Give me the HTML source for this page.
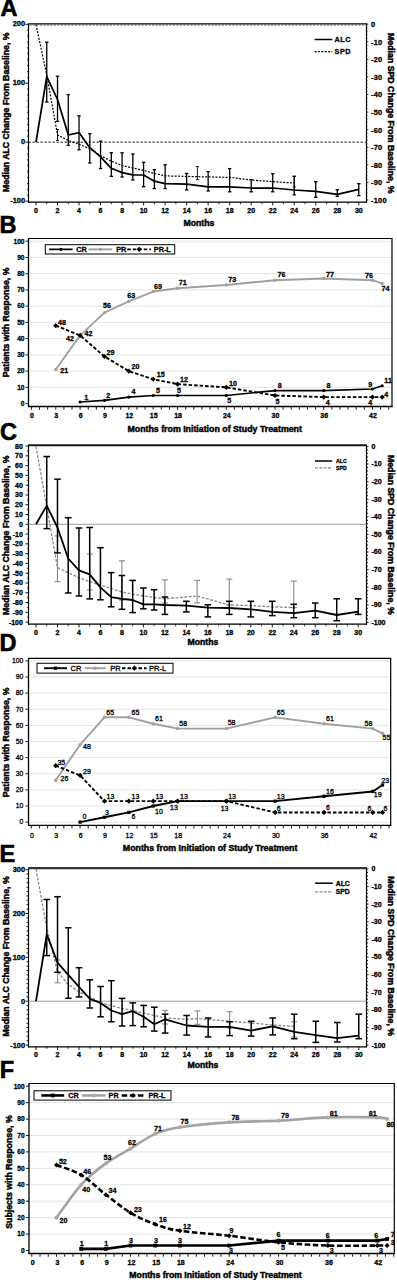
<!DOCTYPE html>
<html><head><meta charset="utf-8"><title>Figure</title>
<style>
html,body{margin:0;padding:0;background:#fff;overflow:hidden;width:397px;height:1280px;}
svg{display:block;}
text{font-family:"Liberation Sans",sans-serif;stroke:#000;stroke-width:0.3px;}
</style></head>
<body>
<svg width="397" height="1280" viewBox="0 0 397 1280">
<rect x="0" y="0" width="397" height="1280" fill="#fff"/>
<text x="0.4" y="15.9" font-size="23.5" text-anchor="start" fill="#000" font-weight="bold" style="stroke-width:0.6px">A</text>
<line x1="25.5" y1="24.3" x2="28.5" y2="24.3" stroke="#000" stroke-width="0.9" />
<text x="25" y="26.4" font-size="7.4" text-anchor="end" fill="#000" font-weight="bold" >200</text>
<line x1="25.5" y1="83.25" x2="28.5" y2="83.25" stroke="#000" stroke-width="0.9" />
<text x="25" y="85.35" font-size="7.4" text-anchor="end" fill="#000" font-weight="bold" >100</text>
<line x1="25.5" y1="142.2" x2="28.5" y2="142.2" stroke="#000" stroke-width="0.9" />
<text x="25" y="144.3" font-size="7.4" text-anchor="end" fill="#000" font-weight="bold" >0</text>
<line x1="25.5" y1="201.15" x2="28.5" y2="201.15" stroke="#000" stroke-width="0.9" />
<text x="25" y="203.25" font-size="7.4" text-anchor="end" fill="#000" font-weight="bold" >-100</text>
<line x1="26.9" y1="195.25" x2="28.5" y2="195.25" stroke="#000" stroke-width="0.7" />
<line x1="26.9" y1="189.36" x2="28.5" y2="189.36" stroke="#000" stroke-width="0.7" />
<line x1="26.9" y1="183.46" x2="28.5" y2="183.46" stroke="#000" stroke-width="0.7" />
<line x1="26.9" y1="177.57" x2="28.5" y2="177.57" stroke="#000" stroke-width="0.7" />
<line x1="26.9" y1="171.67" x2="28.5" y2="171.67" stroke="#000" stroke-width="0.7" />
<line x1="26.9" y1="165.78" x2="28.5" y2="165.78" stroke="#000" stroke-width="0.7" />
<line x1="26.9" y1="159.88" x2="28.5" y2="159.88" stroke="#000" stroke-width="0.7" />
<line x1="26.9" y1="153.99" x2="28.5" y2="153.99" stroke="#000" stroke-width="0.7" />
<line x1="26.9" y1="148.09" x2="28.5" y2="148.09" stroke="#000" stroke-width="0.7" />
<line x1="26.9" y1="136.3" x2="28.5" y2="136.3" stroke="#000" stroke-width="0.7" />
<line x1="26.9" y1="130.41" x2="28.5" y2="130.41" stroke="#000" stroke-width="0.7" />
<line x1="26.9" y1="124.51" x2="28.5" y2="124.51" stroke="#000" stroke-width="0.7" />
<line x1="26.9" y1="118.62" x2="28.5" y2="118.62" stroke="#000" stroke-width="0.7" />
<line x1="26.9" y1="112.72" x2="28.5" y2="112.72" stroke="#000" stroke-width="0.7" />
<line x1="26.9" y1="106.83" x2="28.5" y2="106.83" stroke="#000" stroke-width="0.7" />
<line x1="26.9" y1="100.93" x2="28.5" y2="100.93" stroke="#000" stroke-width="0.7" />
<line x1="26.9" y1="95.04" x2="28.5" y2="95.04" stroke="#000" stroke-width="0.7" />
<line x1="26.9" y1="89.14" x2="28.5" y2="89.14" stroke="#000" stroke-width="0.7" />
<line x1="26.9" y1="77.35" x2="28.5" y2="77.35" stroke="#000" stroke-width="0.7" />
<line x1="26.9" y1="71.46" x2="28.5" y2="71.46" stroke="#000" stroke-width="0.7" />
<line x1="26.9" y1="65.56" x2="28.5" y2="65.56" stroke="#000" stroke-width="0.7" />
<line x1="26.9" y1="59.67" x2="28.5" y2="59.67" stroke="#000" stroke-width="0.7" />
<line x1="26.9" y1="53.77" x2="28.5" y2="53.77" stroke="#000" stroke-width="0.7" />
<line x1="26.9" y1="47.88" x2="28.5" y2="47.88" stroke="#000" stroke-width="0.7" />
<line x1="26.9" y1="41.98" x2="28.5" y2="41.98" stroke="#000" stroke-width="0.7" />
<line x1="26.9" y1="36.09" x2="28.5" y2="36.09" stroke="#000" stroke-width="0.7" />
<line x1="26.9" y1="30.19" x2="28.5" y2="30.19" stroke="#000" stroke-width="0.7" />
<line x1="366.5" y1="24.2" x2="368.3" y2="24.2" stroke="#000" stroke-width="0.9" />
<text x="371" y="27.1" font-size="7.4" text-anchor="start" fill="#000" font-weight="bold" letter-spacing="0.25">0</text>
<line x1="366.5" y1="41.78" x2="368.3" y2="41.78" stroke="#000" stroke-width="0.9" />
<text x="371" y="44.68" font-size="7.4" text-anchor="start" fill="#000" font-weight="bold" letter-spacing="0.25">-10</text>
<line x1="366.5" y1="59.36" x2="368.3" y2="59.36" stroke="#000" stroke-width="0.9" />
<text x="371" y="62.26" font-size="7.4" text-anchor="start" fill="#000" font-weight="bold" letter-spacing="0.25">-20</text>
<line x1="366.5" y1="76.94" x2="368.3" y2="76.94" stroke="#000" stroke-width="0.9" />
<text x="371" y="79.84" font-size="7.4" text-anchor="start" fill="#000" font-weight="bold" letter-spacing="0.25">-30</text>
<line x1="366.5" y1="94.52" x2="368.3" y2="94.52" stroke="#000" stroke-width="0.9" />
<text x="371" y="97.42" font-size="7.4" text-anchor="start" fill="#000" font-weight="bold" letter-spacing="0.25">-40</text>
<line x1="366.5" y1="112.1" x2="368.3" y2="112.1" stroke="#000" stroke-width="0.9" />
<text x="371" y="115" font-size="7.4" text-anchor="start" fill="#000" font-weight="bold" letter-spacing="0.25">-50</text>
<line x1="366.5" y1="129.68" x2="368.3" y2="129.68" stroke="#000" stroke-width="0.9" />
<text x="371" y="132.58" font-size="7.4" text-anchor="start" fill="#000" font-weight="bold" letter-spacing="0.25">-60</text>
<line x1="366.5" y1="147.26" x2="368.3" y2="147.26" stroke="#000" stroke-width="0.9" />
<text x="371" y="150.16" font-size="7.4" text-anchor="start" fill="#000" font-weight="bold" letter-spacing="0.25">-70</text>
<line x1="366.5" y1="164.84" x2="368.3" y2="164.84" stroke="#000" stroke-width="0.9" />
<text x="371" y="167.74" font-size="7.4" text-anchor="start" fill="#000" font-weight="bold" letter-spacing="0.25">-80</text>
<line x1="366.5" y1="182.42" x2="368.3" y2="182.42" stroke="#000" stroke-width="0.9" />
<text x="371" y="185.32" font-size="7.4" text-anchor="start" fill="#000" font-weight="bold" letter-spacing="0.25">-90</text>
<line x1="366.5" y1="200" x2="368.3" y2="200" stroke="#000" stroke-width="0.9" />
<text x="371" y="202.9" font-size="7.4" text-anchor="start" fill="#000" font-weight="bold" letter-spacing="0.25">-100</text>
<line x1="366.5" y1="27.72" x2="367.4" y2="27.72" stroke="#000" stroke-width="0.8" />
<line x1="366.5" y1="31.23" x2="367.4" y2="31.23" stroke="#000" stroke-width="0.8" />
<line x1="366.5" y1="34.75" x2="367.4" y2="34.75" stroke="#000" stroke-width="0.8" />
<line x1="366.5" y1="38.26" x2="367.4" y2="38.26" stroke="#000" stroke-width="0.8" />
<line x1="366.5" y1="45.3" x2="367.4" y2="45.3" stroke="#000" stroke-width="0.8" />
<line x1="366.5" y1="48.81" x2="367.4" y2="48.81" stroke="#000" stroke-width="0.8" />
<line x1="366.5" y1="52.33" x2="367.4" y2="52.33" stroke="#000" stroke-width="0.8" />
<line x1="366.5" y1="55.84" x2="367.4" y2="55.84" stroke="#000" stroke-width="0.8" />
<line x1="366.5" y1="62.88" x2="367.4" y2="62.88" stroke="#000" stroke-width="0.8" />
<line x1="366.5" y1="66.39" x2="367.4" y2="66.39" stroke="#000" stroke-width="0.8" />
<line x1="366.5" y1="69.91" x2="367.4" y2="69.91" stroke="#000" stroke-width="0.8" />
<line x1="366.5" y1="73.42" x2="367.4" y2="73.42" stroke="#000" stroke-width="0.8" />
<line x1="366.5" y1="80.46" x2="367.4" y2="80.46" stroke="#000" stroke-width="0.8" />
<line x1="366.5" y1="83.97" x2="367.4" y2="83.97" stroke="#000" stroke-width="0.8" />
<line x1="366.5" y1="87.49" x2="367.4" y2="87.49" stroke="#000" stroke-width="0.8" />
<line x1="366.5" y1="91" x2="367.4" y2="91" stroke="#000" stroke-width="0.8" />
<line x1="366.5" y1="98.04" x2="367.4" y2="98.04" stroke="#000" stroke-width="0.8" />
<line x1="366.5" y1="101.55" x2="367.4" y2="101.55" stroke="#000" stroke-width="0.8" />
<line x1="366.5" y1="105.07" x2="367.4" y2="105.07" stroke="#000" stroke-width="0.8" />
<line x1="366.5" y1="108.58" x2="367.4" y2="108.58" stroke="#000" stroke-width="0.8" />
<line x1="366.5" y1="115.62" x2="367.4" y2="115.62" stroke="#000" stroke-width="0.8" />
<line x1="366.5" y1="119.13" x2="367.4" y2="119.13" stroke="#000" stroke-width="0.8" />
<line x1="366.5" y1="122.65" x2="367.4" y2="122.65" stroke="#000" stroke-width="0.8" />
<line x1="366.5" y1="126.16" x2="367.4" y2="126.16" stroke="#000" stroke-width="0.8" />
<line x1="366.5" y1="133.2" x2="367.4" y2="133.2" stroke="#000" stroke-width="0.8" />
<line x1="366.5" y1="136.71" x2="367.4" y2="136.71" stroke="#000" stroke-width="0.8" />
<line x1="366.5" y1="140.23" x2="367.4" y2="140.23" stroke="#000" stroke-width="0.8" />
<line x1="366.5" y1="143.74" x2="367.4" y2="143.74" stroke="#000" stroke-width="0.8" />
<line x1="366.5" y1="150.78" x2="367.4" y2="150.78" stroke="#000" stroke-width="0.8" />
<line x1="366.5" y1="154.29" x2="367.4" y2="154.29" stroke="#000" stroke-width="0.8" />
<line x1="366.5" y1="157.81" x2="367.4" y2="157.81" stroke="#000" stroke-width="0.8" />
<line x1="366.5" y1="161.32" x2="367.4" y2="161.32" stroke="#000" stroke-width="0.8" />
<line x1="366.5" y1="168.36" x2="367.4" y2="168.36" stroke="#000" stroke-width="0.8" />
<line x1="366.5" y1="171.87" x2="367.4" y2="171.87" stroke="#000" stroke-width="0.8" />
<line x1="366.5" y1="175.39" x2="367.4" y2="175.39" stroke="#000" stroke-width="0.8" />
<line x1="366.5" y1="178.9" x2="367.4" y2="178.9" stroke="#000" stroke-width="0.8" />
<line x1="366.5" y1="185.94" x2="367.4" y2="185.94" stroke="#000" stroke-width="0.8" />
<line x1="366.5" y1="189.45" x2="367.4" y2="189.45" stroke="#000" stroke-width="0.8" />
<line x1="366.5" y1="192.97" x2="367.4" y2="192.97" stroke="#000" stroke-width="0.8" />
<line x1="366.5" y1="196.48" x2="367.4" y2="196.48" stroke="#000" stroke-width="0.8" />
<line x1="36" y1="202.2" x2="36" y2="205.4" stroke="#000" stroke-width="0.9" />
<text x="36" y="213" font-size="7" text-anchor="middle" fill="#000" font-weight="bold" >0</text>
<line x1="46.76" y1="202.2" x2="46.76" y2="204.2" stroke="#000" stroke-width="0.8" />
<line x1="57.52" y1="202.2" x2="57.52" y2="205.4" stroke="#000" stroke-width="0.9" />
<text x="57.52" y="213" font-size="7" text-anchor="middle" fill="#000" font-weight="bold" >2</text>
<line x1="68.28" y1="202.2" x2="68.28" y2="204.2" stroke="#000" stroke-width="0.8" />
<line x1="79.04" y1="202.2" x2="79.04" y2="205.4" stroke="#000" stroke-width="0.9" />
<text x="79.04" y="213" font-size="7" text-anchor="middle" fill="#000" font-weight="bold" >4</text>
<line x1="89.8" y1="202.2" x2="89.8" y2="204.2" stroke="#000" stroke-width="0.8" />
<line x1="100.56" y1="202.2" x2="100.56" y2="205.4" stroke="#000" stroke-width="0.9" />
<text x="100.56" y="213" font-size="7" text-anchor="middle" fill="#000" font-weight="bold" >6</text>
<line x1="111.32" y1="202.2" x2="111.32" y2="204.2" stroke="#000" stroke-width="0.8" />
<line x1="122.08" y1="202.2" x2="122.08" y2="205.4" stroke="#000" stroke-width="0.9" />
<text x="122.08" y="213" font-size="7" text-anchor="middle" fill="#000" font-weight="bold" >8</text>
<line x1="132.84" y1="202.2" x2="132.84" y2="204.2" stroke="#000" stroke-width="0.8" />
<line x1="143.6" y1="202.2" x2="143.6" y2="205.4" stroke="#000" stroke-width="0.9" />
<text x="143.6" y="213" font-size="7" text-anchor="middle" fill="#000" font-weight="bold" >10</text>
<line x1="154.36" y1="202.2" x2="154.36" y2="204.2" stroke="#000" stroke-width="0.8" />
<line x1="165.12" y1="202.2" x2="165.12" y2="205.4" stroke="#000" stroke-width="0.9" />
<text x="165.12" y="213" font-size="7" text-anchor="middle" fill="#000" font-weight="bold" >12</text>
<line x1="175.88" y1="202.2" x2="175.88" y2="204.2" stroke="#000" stroke-width="0.8" />
<line x1="186.64" y1="202.2" x2="186.64" y2="205.4" stroke="#000" stroke-width="0.9" />
<text x="186.64" y="213" font-size="7" text-anchor="middle" fill="#000" font-weight="bold" >14</text>
<line x1="197.4" y1="202.2" x2="197.4" y2="204.2" stroke="#000" stroke-width="0.8" />
<line x1="208.16" y1="202.2" x2="208.16" y2="205.4" stroke="#000" stroke-width="0.9" />
<text x="208.16" y="213" font-size="7" text-anchor="middle" fill="#000" font-weight="bold" >16</text>
<line x1="218.92" y1="202.2" x2="218.92" y2="204.2" stroke="#000" stroke-width="0.8" />
<line x1="229.68" y1="202.2" x2="229.68" y2="205.4" stroke="#000" stroke-width="0.9" />
<text x="229.68" y="213" font-size="7" text-anchor="middle" fill="#000" font-weight="bold" >18</text>
<line x1="240.44" y1="202.2" x2="240.44" y2="204.2" stroke="#000" stroke-width="0.8" />
<line x1="251.2" y1="202.2" x2="251.2" y2="205.4" stroke="#000" stroke-width="0.9" />
<text x="251.2" y="213" font-size="7" text-anchor="middle" fill="#000" font-weight="bold" >20</text>
<line x1="261.96" y1="202.2" x2="261.96" y2="204.2" stroke="#000" stroke-width="0.8" />
<line x1="272.72" y1="202.2" x2="272.72" y2="205.4" stroke="#000" stroke-width="0.9" />
<text x="272.72" y="213" font-size="7" text-anchor="middle" fill="#000" font-weight="bold" >22</text>
<line x1="283.48" y1="202.2" x2="283.48" y2="204.2" stroke="#000" stroke-width="0.8" />
<line x1="294.24" y1="202.2" x2="294.24" y2="205.4" stroke="#000" stroke-width="0.9" />
<text x="294.24" y="213" font-size="7" text-anchor="middle" fill="#000" font-weight="bold" >24</text>
<line x1="305" y1="202.2" x2="305" y2="204.2" stroke="#000" stroke-width="0.8" />
<line x1="315.76" y1="202.2" x2="315.76" y2="205.4" stroke="#000" stroke-width="0.9" />
<text x="315.76" y="213" font-size="7" text-anchor="middle" fill="#000" font-weight="bold" >26</text>
<line x1="326.52" y1="202.2" x2="326.52" y2="204.2" stroke="#000" stroke-width="0.8" />
<line x1="337.28" y1="202.2" x2="337.28" y2="205.4" stroke="#000" stroke-width="0.9" />
<text x="337.28" y="213" font-size="7" text-anchor="middle" fill="#000" font-weight="bold" >28</text>
<line x1="348.04" y1="202.2" x2="348.04" y2="204.2" stroke="#000" stroke-width="0.8" />
<line x1="358.8" y1="202.2" x2="358.8" y2="205.4" stroke="#000" stroke-width="0.9" />
<text x="358.8" y="213" font-size="7" text-anchor="middle" fill="#000" font-weight="bold" >30</text>
<line x1="28.5" y1="23.8" x2="28.5" y2="202.7" stroke="#000" stroke-width="1.2" />
<line x1="28" y1="202.2" x2="367" y2="202.2" stroke="#000" stroke-width="1.2" />
<line x1="366.5" y1="23.8" x2="366.5" y2="202.7" stroke="#000" stroke-width="1.2" />
<line x1="28" y1="23.8" x2="367" y2="23.8" stroke="#000" stroke-width="1.2" />
<line x1="28.5" y1="142.2" x2="366.5" y2="142.2" stroke="#000" stroke-width="0.9" stroke-dasharray="2.4,1.6"/>
<line x1="29.5" y1="25.1" x2="365.5" y2="25.1" stroke="#555" stroke-width="0.9" stroke-dasharray="2,1.5"/>
<line x1="57.52" y1="129.5" x2="57.52" y2="140.4" stroke="#000" stroke-width="0.9" />
<line x1="56.02" y1="129.5" x2="59.02" y2="129.5" stroke="#000" stroke-width="0.9" />
<line x1="56.02" y1="140.4" x2="59.02" y2="140.4" stroke="#000" stroke-width="0.9" />
<line x1="197.4" y1="166.6" x2="197.4" y2="179.7" stroke="#000" stroke-width="0.9" />
<line x1="195.9" y1="166.6" x2="198.9" y2="166.6" stroke="#000" stroke-width="0.9" />
<line x1="195.9" y1="179.7" x2="198.9" y2="179.7" stroke="#000" stroke-width="0.9" />
<line x1="294.24" y1="176.5" x2="294.24" y2="187" stroke="#000" stroke-width="0.9" />
<line x1="292.74" y1="176.5" x2="295.74" y2="176.5" stroke="#000" stroke-width="0.9" />
<line x1="292.74" y1="187" x2="295.74" y2="187" stroke="#000" stroke-width="0.9" />
<polyline points="36,24.5 46.76,75 57.52,135 68.28,140.4 79.04,144.2 89.8,148.8 100.56,155.6 111.32,161.2 122.08,165.5 132.84,168 143.6,170.4 154.36,173.5 165.12,175.9 197.4,176.7 229.68,177.4 251.2,180 272.72,181.7 294.24,183" fill="none" stroke="#000" stroke-width="1.2" stroke-linejoin="round" stroke-dasharray="2,1.4"/>
<line x1="46.76" y1="42.2" x2="46.76" y2="102" stroke="#000" stroke-width="1.3" />
<line x1="45.06" y1="42.2" x2="48.46" y2="42.2" stroke="#000" stroke-width="1.3" />
<line x1="45.06" y1="102" x2="48.46" y2="102" stroke="#000" stroke-width="1.3" />
<line x1="57.52" y1="76.2" x2="57.52" y2="121.4" stroke="#000" stroke-width="1.3" />
<line x1="55.82" y1="76.2" x2="59.22" y2="76.2" stroke="#000" stroke-width="1.3" />
<line x1="55.82" y1="121.4" x2="59.22" y2="121.4" stroke="#000" stroke-width="1.3" />
<line x1="68.28" y1="94.6" x2="68.28" y2="145.4" stroke="#000" stroke-width="1.3" />
<line x1="66.58" y1="94.6" x2="69.98" y2="94.6" stroke="#000" stroke-width="1.3" />
<line x1="66.58" y1="145.4" x2="69.98" y2="145.4" stroke="#000" stroke-width="1.3" />
<line x1="79.04" y1="115.8" x2="79.04" y2="149.8" stroke="#000" stroke-width="1.3" />
<line x1="77.34" y1="115.8" x2="80.74" y2="115.8" stroke="#000" stroke-width="1.3" />
<line x1="77.34" y1="149.8" x2="80.74" y2="149.8" stroke="#000" stroke-width="1.3" />
<line x1="89.8" y1="133.6" x2="89.8" y2="163" stroke="#000" stroke-width="1.3" />
<line x1="88.1" y1="133.6" x2="91.5" y2="133.6" stroke="#000" stroke-width="1.3" />
<line x1="88.1" y1="163" x2="91.5" y2="163" stroke="#000" stroke-width="1.3" />
<line x1="100.56" y1="141.1" x2="100.56" y2="168.5" stroke="#000" stroke-width="1.3" />
<line x1="98.86" y1="141.1" x2="102.26" y2="141.1" stroke="#000" stroke-width="1.3" />
<line x1="98.86" y1="168.5" x2="102.26" y2="168.5" stroke="#000" stroke-width="1.3" />
<line x1="111.32" y1="152.7" x2="111.32" y2="176.4" stroke="#000" stroke-width="1.3" />
<line x1="109.62" y1="152.7" x2="113.02" y2="152.7" stroke="#000" stroke-width="1.3" />
<line x1="109.62" y1="176.4" x2="113.02" y2="176.4" stroke="#000" stroke-width="1.3" />
<line x1="122.08" y1="152.8" x2="122.08" y2="177" stroke="#000" stroke-width="1.3" />
<line x1="120.38" y1="152.8" x2="123.78" y2="152.8" stroke="#000" stroke-width="1.3" />
<line x1="120.38" y1="177" x2="123.78" y2="177" stroke="#000" stroke-width="1.3" />
<line x1="132.84" y1="154" x2="132.84" y2="180" stroke="#000" stroke-width="1.3" />
<line x1="131.14" y1="154" x2="134.54" y2="154" stroke="#000" stroke-width="1.3" />
<line x1="131.14" y1="180" x2="134.54" y2="180" stroke="#000" stroke-width="1.3" />
<line x1="143.6" y1="162.3" x2="143.6" y2="186.7" stroke="#000" stroke-width="1.3" />
<line x1="141.9" y1="162.3" x2="145.3" y2="162.3" stroke="#000" stroke-width="1.3" />
<line x1="141.9" y1="186.7" x2="145.3" y2="186.7" stroke="#000" stroke-width="1.3" />
<line x1="154.36" y1="169.6" x2="154.36" y2="188.5" stroke="#000" stroke-width="1.3" />
<line x1="152.66" y1="169.6" x2="156.06" y2="169.6" stroke="#000" stroke-width="1.3" />
<line x1="152.66" y1="188.5" x2="156.06" y2="188.5" stroke="#000" stroke-width="1.3" />
<line x1="165.12" y1="164.8" x2="165.12" y2="188.5" stroke="#000" stroke-width="1.3" />
<line x1="163.42" y1="164.8" x2="166.82" y2="164.8" stroke="#000" stroke-width="1.3" />
<line x1="163.42" y1="188.5" x2="166.82" y2="188.5" stroke="#000" stroke-width="1.3" />
<line x1="186.64" y1="173.4" x2="186.64" y2="190" stroke="#000" stroke-width="1.3" />
<line x1="184.94" y1="173.4" x2="188.34" y2="173.4" stroke="#000" stroke-width="1.3" />
<line x1="184.94" y1="190" x2="188.34" y2="190" stroke="#000" stroke-width="1.3" />
<line x1="208.16" y1="171.6" x2="208.16" y2="191" stroke="#000" stroke-width="1.3" />
<line x1="206.46" y1="171.6" x2="209.86" y2="171.6" stroke="#000" stroke-width="1.3" />
<line x1="206.46" y1="191" x2="209.86" y2="191" stroke="#000" stroke-width="1.3" />
<line x1="229.68" y1="168.6" x2="229.68" y2="191.8" stroke="#000" stroke-width="1.3" />
<line x1="227.98" y1="168.6" x2="231.38" y2="168.6" stroke="#000" stroke-width="1.3" />
<line x1="227.98" y1="191.8" x2="231.38" y2="191.8" stroke="#000" stroke-width="1.3" />
<line x1="251.2" y1="179.7" x2="251.2" y2="191.8" stroke="#000" stroke-width="1.3" />
<line x1="249.5" y1="179.7" x2="252.9" y2="179.7" stroke="#000" stroke-width="1.3" />
<line x1="249.5" y1="191.8" x2="252.9" y2="191.8" stroke="#000" stroke-width="1.3" />
<line x1="272.72" y1="173.7" x2="272.72" y2="191.8" stroke="#000" stroke-width="1.3" />
<line x1="271.02" y1="173.7" x2="274.42" y2="173.7" stroke="#000" stroke-width="1.3" />
<line x1="271.02" y1="191.8" x2="274.42" y2="191.8" stroke="#000" stroke-width="1.3" />
<line x1="294.24" y1="176.2" x2="294.24" y2="194.8" stroke="#000" stroke-width="1.3" />
<line x1="292.54" y1="176.2" x2="295.94" y2="176.2" stroke="#000" stroke-width="1.3" />
<line x1="292.54" y1="194.8" x2="295.94" y2="194.8" stroke="#000" stroke-width="1.3" />
<line x1="315.76" y1="181.7" x2="315.76" y2="197.3" stroke="#000" stroke-width="1.3" />
<line x1="314.06" y1="181.7" x2="317.46" y2="181.7" stroke="#000" stroke-width="1.3" />
<line x1="314.06" y1="197.3" x2="317.46" y2="197.3" stroke="#000" stroke-width="1.3" />
<line x1="337.28" y1="189.8" x2="337.28" y2="196.3" stroke="#000" stroke-width="1.3" />
<line x1="335.58" y1="189.8" x2="338.98" y2="189.8" stroke="#000" stroke-width="1.3" />
<line x1="335.58" y1="196.3" x2="338.98" y2="196.3" stroke="#000" stroke-width="1.3" />
<line x1="358.8" y1="183.7" x2="358.8" y2="195.6" stroke="#000" stroke-width="1.3" />
<line x1="357.1" y1="183.7" x2="360.5" y2="183.7" stroke="#000" stroke-width="1.3" />
<line x1="357.1" y1="195.6" x2="360.5" y2="195.6" stroke="#000" stroke-width="1.3" />
<polyline points="36,142.2 46.76,76.7 57.52,99.5 68.28,135 79.04,132.6 89.8,147.7 100.56,156.8 111.32,168.3 122.08,172.6 132.84,174.9 143.6,175 154.36,181.2 165.12,183.7 186.64,184.2 208.16,186.8 229.68,186.8 251.2,188 272.72,188 294.24,190 315.76,191.3 337.28,194.3 358.8,189.3" fill="none" stroke="#000" stroke-width="1.75" stroke-linejoin="round" />
<line x1="314.6" y1="39.5" x2="332.3" y2="39.5" stroke="#000" stroke-width="1.5" />
<line x1="314.6" y1="51.6" x2="332.3" y2="51.6" stroke="#000" stroke-width="1.2" stroke-dasharray="2,1.4"/>
<text x="334.6" y="42.13" font-size="7.3" text-anchor="start" fill="#000" font-weight="bold" letter-spacing="0.45">ALC</text>
<text x="334.6" y="54.23" font-size="7.3" text-anchor="start" fill="#000" font-weight="bold" letter-spacing="0.45">SPD</text>
<text x="198.9" y="225.8" font-size="8.7" text-anchor="middle" fill="#000" font-weight="bold" style="stroke-width:0.45px">Months</text>
<text transform="translate(9,112.2) rotate(-90)" x="0" y="0" font-size="8.72" text-anchor="middle" font-weight="bold" style="stroke-width:0.45px" >Median ALC Change From Baseline, %</text>
<text transform="translate(388.3,113.3) rotate(90)" x="0" y="0" font-size="8.75" text-anchor="middle" font-weight="bold" style="stroke-width:0.45px" >Median SPD Change From Baseline, %</text>
<text x="-0.4" y="233.2" font-size="23.5" text-anchor="start" fill="#000" font-weight="bold" style="stroke-width:0.6px">B</text>
<line x1="28.5" y1="387.36" x2="392" y2="387.36" stroke="#dedede" stroke-width="0.8" />
<line x1="28.5" y1="371.12" x2="392" y2="371.12" stroke="#dedede" stroke-width="0.8" />
<line x1="28.5" y1="354.88" x2="392" y2="354.88" stroke="#dedede" stroke-width="0.8" />
<line x1="28.5" y1="338.64" x2="392" y2="338.64" stroke="#dedede" stroke-width="0.8" />
<line x1="28.5" y1="322.4" x2="392" y2="322.4" stroke="#dedede" stroke-width="0.8" />
<line x1="28.5" y1="306.16" x2="392" y2="306.16" stroke="#dedede" stroke-width="0.8" />
<line x1="28.5" y1="289.92" x2="392" y2="289.92" stroke="#dedede" stroke-width="0.8" />
<line x1="28.5" y1="273.68" x2="392" y2="273.68" stroke="#dedede" stroke-width="0.8" />
<line x1="28.5" y1="257.44" x2="392" y2="257.44" stroke="#dedede" stroke-width="0.8" />
<line x1="28.5" y1="241.2" x2="392" y2="241.2" stroke="#dedede" stroke-width="0.8" />
<line x1="28.5" y1="403.9" x2="392" y2="403.9" stroke="#e6e6e6" stroke-width="0.8" />
<line x1="25.5" y1="403.6" x2="28.5" y2="403.6" stroke="#000" stroke-width="0.9" />
<text transform="translate(24.5,405.9) scale(0.87,1)" font-size="7.6" text-anchor="end" fill="#000" font-weight="bold" >0</text>
<line x1="25.5" y1="387.36" x2="28.5" y2="387.36" stroke="#000" stroke-width="0.9" />
<text transform="translate(24.5,389.66) scale(0.87,1)" font-size="7.6" text-anchor="end" fill="#000" font-weight="bold" >10</text>
<line x1="25.5" y1="371.12" x2="28.5" y2="371.12" stroke="#000" stroke-width="0.9" />
<text transform="translate(24.5,373.42) scale(0.87,1)" font-size="7.6" text-anchor="end" fill="#000" font-weight="bold" >20</text>
<line x1="25.5" y1="354.88" x2="28.5" y2="354.88" stroke="#000" stroke-width="0.9" />
<text transform="translate(24.5,357.18) scale(0.87,1)" font-size="7.6" text-anchor="end" fill="#000" font-weight="bold" >30</text>
<line x1="25.5" y1="338.64" x2="28.5" y2="338.64" stroke="#000" stroke-width="0.9" />
<text transform="translate(24.5,340.94) scale(0.87,1)" font-size="7.6" text-anchor="end" fill="#000" font-weight="bold" >40</text>
<line x1="25.5" y1="322.4" x2="28.5" y2="322.4" stroke="#000" stroke-width="0.9" />
<text transform="translate(24.5,324.7) scale(0.87,1)" font-size="7.6" text-anchor="end" fill="#000" font-weight="bold" >50</text>
<line x1="25.5" y1="306.16" x2="28.5" y2="306.16" stroke="#000" stroke-width="0.9" />
<text transform="translate(24.5,308.46) scale(0.87,1)" font-size="7.6" text-anchor="end" fill="#000" font-weight="bold" >60</text>
<line x1="25.5" y1="289.92" x2="28.5" y2="289.92" stroke="#000" stroke-width="0.9" />
<text transform="translate(24.5,292.22) scale(0.87,1)" font-size="7.6" text-anchor="end" fill="#000" font-weight="bold" >70</text>
<line x1="25.5" y1="273.68" x2="28.5" y2="273.68" stroke="#000" stroke-width="0.9" />
<text transform="translate(24.5,275.98) scale(0.87,1)" font-size="7.6" text-anchor="end" fill="#000" font-weight="bold" >80</text>
<line x1="25.5" y1="257.44" x2="28.5" y2="257.44" stroke="#000" stroke-width="0.9" />
<text transform="translate(24.5,259.74) scale(0.87,1)" font-size="7.6" text-anchor="end" fill="#000" font-weight="bold" >90</text>
<line x1="25.5" y1="241.2" x2="28.5" y2="241.2" stroke="#000" stroke-width="0.9" />
<text transform="translate(24.5,243.5) scale(0.87,1)" font-size="7.6" text-anchor="end" fill="#000" font-weight="bold" >100</text>
<line x1="31.4" y1="406.5" x2="31.4" y2="409.7" stroke="#000" stroke-width="0.9" />
<line x1="39.52" y1="406.5" x2="39.52" y2="409.7" stroke="#000" stroke-width="0.9" />
<line x1="47.64" y1="406.5" x2="47.64" y2="409.7" stroke="#000" stroke-width="0.9" />
<line x1="55.76" y1="406.5" x2="55.76" y2="409.7" stroke="#000" stroke-width="0.9" />
<line x1="63.88" y1="406.5" x2="63.88" y2="409.7" stroke="#000" stroke-width="0.9" />
<line x1="72" y1="406.5" x2="72" y2="409.7" stroke="#000" stroke-width="0.9" />
<line x1="80.12" y1="406.5" x2="80.12" y2="409.7" stroke="#000" stroke-width="0.9" />
<line x1="88.24" y1="406.5" x2="88.24" y2="409.7" stroke="#000" stroke-width="0.9" />
<line x1="96.36" y1="406.5" x2="96.36" y2="409.7" stroke="#000" stroke-width="0.9" />
<line x1="104.48" y1="406.5" x2="104.48" y2="409.7" stroke="#000" stroke-width="0.9" />
<line x1="112.6" y1="406.5" x2="112.6" y2="409.7" stroke="#000" stroke-width="0.9" />
<line x1="120.72" y1="406.5" x2="120.72" y2="409.7" stroke="#000" stroke-width="0.9" />
<line x1="128.84" y1="406.5" x2="128.84" y2="409.7" stroke="#000" stroke-width="0.9" />
<line x1="136.96" y1="406.5" x2="136.96" y2="409.7" stroke="#000" stroke-width="0.9" />
<line x1="145.08" y1="406.5" x2="145.08" y2="409.7" stroke="#000" stroke-width="0.9" />
<line x1="153.2" y1="406.5" x2="153.2" y2="409.7" stroke="#000" stroke-width="0.9" />
<line x1="161.32" y1="406.5" x2="161.32" y2="409.7" stroke="#000" stroke-width="0.9" />
<line x1="169.44" y1="406.5" x2="169.44" y2="409.7" stroke="#000" stroke-width="0.9" />
<line x1="177.56" y1="406.5" x2="177.56" y2="409.7" stroke="#000" stroke-width="0.9" />
<line x1="185.68" y1="406.5" x2="185.68" y2="409.7" stroke="#000" stroke-width="0.9" />
<line x1="193.8" y1="406.5" x2="193.8" y2="409.7" stroke="#000" stroke-width="0.9" />
<line x1="201.92" y1="406.5" x2="201.92" y2="409.7" stroke="#000" stroke-width="0.9" />
<line x1="210.04" y1="406.5" x2="210.04" y2="409.7" stroke="#000" stroke-width="0.9" />
<line x1="218.16" y1="406.5" x2="218.16" y2="409.7" stroke="#000" stroke-width="0.9" />
<line x1="226.28" y1="406.5" x2="226.28" y2="409.7" stroke="#000" stroke-width="0.9" />
<line x1="234.4" y1="406.5" x2="234.4" y2="409.7" stroke="#000" stroke-width="0.9" />
<line x1="242.52" y1="406.5" x2="242.52" y2="409.7" stroke="#000" stroke-width="0.9" />
<line x1="250.64" y1="406.5" x2="250.64" y2="409.7" stroke="#000" stroke-width="0.9" />
<line x1="258.76" y1="406.5" x2="258.76" y2="409.7" stroke="#000" stroke-width="0.9" />
<line x1="266.88" y1="406.5" x2="266.88" y2="409.7" stroke="#000" stroke-width="0.9" />
<line x1="275" y1="406.5" x2="275" y2="409.7" stroke="#000" stroke-width="0.9" />
<line x1="283.12" y1="406.5" x2="283.12" y2="409.7" stroke="#000" stroke-width="0.9" />
<line x1="291.24" y1="406.5" x2="291.24" y2="409.7" stroke="#000" stroke-width="0.9" />
<line x1="299.36" y1="406.5" x2="299.36" y2="409.7" stroke="#000" stroke-width="0.9" />
<line x1="307.48" y1="406.5" x2="307.48" y2="409.7" stroke="#000" stroke-width="0.9" />
<line x1="315.6" y1="406.5" x2="315.6" y2="409.7" stroke="#000" stroke-width="0.9" />
<line x1="323.72" y1="406.5" x2="323.72" y2="409.7" stroke="#000" stroke-width="0.9" />
<line x1="331.84" y1="406.5" x2="331.84" y2="409.7" stroke="#000" stroke-width="0.9" />
<line x1="339.96" y1="406.5" x2="339.96" y2="409.7" stroke="#000" stroke-width="0.9" />
<line x1="348.08" y1="406.5" x2="348.08" y2="409.7" stroke="#000" stroke-width="0.9" />
<line x1="356.2" y1="406.5" x2="356.2" y2="409.7" stroke="#000" stroke-width="0.9" />
<line x1="364.32" y1="406.5" x2="364.32" y2="409.7" stroke="#000" stroke-width="0.9" />
<line x1="372.44" y1="406.5" x2="372.44" y2="409.7" stroke="#000" stroke-width="0.9" />
<line x1="380.56" y1="406.5" x2="380.56" y2="409.7" stroke="#000" stroke-width="0.9" />
<line x1="388.68" y1="406.5" x2="388.68" y2="409.7" stroke="#000" stroke-width="0.9" />
<text x="31.9" y="417.9" font-size="7" text-anchor="middle" fill="#000" font-weight="bold" >0</text>
<text x="56.26" y="417.9" font-size="7" text-anchor="middle" fill="#000" font-weight="bold" >3</text>
<text x="80.62" y="417.9" font-size="7" text-anchor="middle" fill="#000" font-weight="bold" >6</text>
<text x="104.98" y="417.9" font-size="7" text-anchor="middle" fill="#000" font-weight="bold" >9</text>
<text x="129.34" y="417.9" font-size="7" text-anchor="middle" fill="#000" font-weight="bold" >12</text>
<text x="153.7" y="417.9" font-size="7" text-anchor="middle" fill="#000" font-weight="bold" >15</text>
<text x="178.06" y="417.9" font-size="7" text-anchor="middle" fill="#000" font-weight="bold" >18</text>
<text x="226.78" y="417.9" font-size="7" text-anchor="middle" fill="#000" font-weight="bold" >24</text>
<text x="275.5" y="417.9" font-size="7" text-anchor="middle" fill="#000" font-weight="bold" >30</text>
<text x="324.22" y="417.9" font-size="7" text-anchor="middle" fill="#000" font-weight="bold" >36</text>
<text x="372.94" y="417.9" font-size="7" text-anchor="middle" fill="#000" font-weight="bold" >42</text>
<line x1="28.5" y1="238.5" x2="28.5" y2="407" stroke="#000" stroke-width="1.3" />
<line x1="28" y1="406.5" x2="392.5" y2="406.5" stroke="#000" stroke-width="1.3" />
<line x1="392" y1="238.5" x2="392" y2="407" stroke="#000" stroke-width="1.2" />
<line x1="28" y1="238.5" x2="392.5" y2="238.5" stroke="#000" stroke-width="1.2" />
<polyline points="55.76,369.5 80.12,335.39 104.48,312.66 128.84,301.29 153.2,291.54 177.56,288.3 226.28,285.05 275,280.18 323.72,278.55 372.44,280.18 382.18,283.42" fill="none" stroke="#a0a0a0" stroke-width="1.9" stroke-linejoin="round" />
<circle cx="55.76" cy="369.5" r="1.7" fill="#a0a0a0"/>
<circle cx="80.12" cy="335.39" r="1.7" fill="#a0a0a0"/>
<circle cx="104.48" cy="312.66" r="1.7" fill="#a0a0a0"/>
<circle cx="128.84" cy="301.29" r="1.7" fill="#a0a0a0"/>
<circle cx="153.2" cy="291.54" r="1.7" fill="#a0a0a0"/>
<circle cx="177.56" cy="288.3" r="1.7" fill="#a0a0a0"/>
<circle cx="226.28" cy="285.05" r="1.7" fill="#a0a0a0"/>
<circle cx="275" cy="280.18" r="1.7" fill="#a0a0a0"/>
<circle cx="323.72" cy="278.55" r="1.7" fill="#a0a0a0"/>
<circle cx="372.44" cy="280.18" r="1.7" fill="#a0a0a0"/>
<circle cx="382.18" cy="283.42" r="1.7" fill="#a0a0a0"/>
<polyline points="55.76,325.65 80.12,335.39 104.48,356.5 128.84,371.12 153.2,379.24 177.56,384.11 226.28,387.36 275,395.48 323.72,397.1 372.44,397.1 382.18,397.1" fill="none" stroke="#000" stroke-width="1.9" stroke-linejoin="round" stroke-dasharray="3.5,2"/>
<path d="M55.76,323.05 L58.36,325.65 L55.76,328.25 L53.16,325.65 Z" fill="#000"/>
<path d="M80.12,332.79 L82.72,335.39 L80.12,337.99 L77.52,335.39 Z" fill="#000"/>
<path d="M104.48,353.9 L107.08,356.5 L104.48,359.1 L101.88,356.5 Z" fill="#000"/>
<path d="M128.84,368.52 L131.44,371.12 L128.84,373.72 L126.24,371.12 Z" fill="#000"/>
<path d="M153.2,376.64 L155.8,379.24 L153.2,381.84 L150.6,379.24 Z" fill="#000"/>
<path d="M177.56,381.51 L180.16,384.11 L177.56,386.71 L174.96,384.11 Z" fill="#000"/>
<path d="M226.28,384.76 L228.88,387.36 L226.28,389.96 L223.68,387.36 Z" fill="#000"/>
<path d="M275,392.88 L277.6,395.48 L275,398.08 L272.4,395.48 Z" fill="#000"/>
<path d="M323.72,394.5 L326.32,397.1 L323.72,399.7 L321.12,397.1 Z" fill="#000"/>
<path d="M372.44,394.5 L375.04,397.1 L372.44,399.7 L369.84,397.1 Z" fill="#000"/>
<path d="M382.18,394.5 L384.78,397.1 L382.18,399.7 L379.58,397.1 Z" fill="#000"/>
<polyline points="80.12,401.98 104.48,400.35 128.84,397.1 153.2,395.48 177.56,395.48 226.28,395.48 275,390.61 323.72,390.61 372.44,388.98 382.18,385.74" fill="none" stroke="#000" stroke-width="1.7" stroke-linejoin="round" />
<circle cx="80.12" cy="401.98" r="1.6" fill="#000"/>
<circle cx="104.48" cy="400.35" r="1.6" fill="#000"/>
<circle cx="128.84" cy="397.1" r="1.6" fill="#000"/>
<circle cx="153.2" cy="395.48" r="1.6" fill="#000"/>
<circle cx="177.56" cy="395.48" r="1.6" fill="#000"/>
<circle cx="226.28" cy="395.48" r="1.6" fill="#000"/>
<circle cx="275" cy="390.61" r="1.6" fill="#000"/>
<circle cx="323.72" cy="390.61" r="1.6" fill="#000"/>
<circle cx="372.44" cy="388.98" r="1.6" fill="#000"/>
<circle cx="382.18" cy="385.74" r="1.6" fill="#000"/>
<text transform="translate(60.3,372.77) scale(0.93,1)" font-size="7.7" text-anchor="start" fill="#000" font-weight="bold" >21</text>
<text transform="translate(66,341.27) scale(0.93,1)" font-size="7.7" text-anchor="start" fill="#000" font-weight="bold" >42</text>
<text transform="translate(103,308.07) scale(0.93,1)" font-size="7.7" text-anchor="start" fill="#000" font-weight="bold" >56</text>
<text transform="translate(127.2,297.57) scale(0.93,1)" font-size="7.7" text-anchor="start" fill="#000" font-weight="bold" >63</text>
<text transform="translate(154,288.77) scale(0.93,1)" font-size="7.7" text-anchor="start" fill="#000" font-weight="bold" >69</text>
<text transform="translate(178.7,285.47) scale(0.93,1)" font-size="7.7" text-anchor="start" fill="#000" font-weight="bold" >71</text>
<text transform="translate(228.2,282.17) scale(0.93,1)" font-size="7.7" text-anchor="start" fill="#000" font-weight="bold" >73</text>
<text transform="translate(277.6,277.37) scale(0.93,1)" font-size="7.7" text-anchor="start" fill="#000" font-weight="bold" >76</text>
<text transform="translate(326,276.77) scale(0.93,1)" font-size="7.7" text-anchor="start" fill="#000" font-weight="bold" >77</text>
<text transform="translate(365,278.07) scale(0.93,1)" font-size="7.7" text-anchor="start" fill="#000" font-weight="bold" >76</text>
<text transform="translate(381.4,291.47) scale(0.93,1)" font-size="7.7" text-anchor="start" fill="#000" font-weight="bold" >74</text>
<text transform="translate(58,324.97) scale(0.93,1)" font-size="7.7" text-anchor="start" fill="#000" font-weight="bold" >48</text>
<text transform="translate(84.4,336.27) scale(0.93,1)" font-size="7.7" text-anchor="start" fill="#000" font-weight="bold" >42</text>
<text transform="translate(106.4,355.47) scale(0.93,1)" font-size="7.7" text-anchor="start" fill="#000" font-weight="bold" >29</text>
<text transform="translate(131.6,369.27) scale(0.93,1)" font-size="7.7" text-anchor="start" fill="#000" font-weight="bold" >20</text>
<text transform="translate(156.8,377.37) scale(0.93,1)" font-size="7.7" text-anchor="start" fill="#000" font-weight="bold" >15</text>
<text transform="translate(180,381.77) scale(0.93,1)" font-size="7.7" text-anchor="start" fill="#000" font-weight="bold" >12</text>
<text transform="translate(229,386.17) scale(0.93,1)" font-size="7.7" text-anchor="start" fill="#000" font-weight="bold" >10</text>
<text transform="translate(275.6,403.77) scale(0.93,1)" font-size="7.7" text-anchor="start" fill="#000" font-weight="bold" >5</text>
<text transform="translate(325.8,404.97) scale(0.93,1)" font-size="7.7" text-anchor="start" fill="#000" font-weight="bold" >4</text>
<text transform="translate(368.2,404.77) scale(0.93,1)" font-size="7.7" text-anchor="start" fill="#000" font-weight="bold" >4</text>
<text transform="translate(384.3,396.67) scale(0.93,1)" font-size="7.7" text-anchor="start" fill="#000" font-weight="bold" >4</text>
<text transform="translate(84.2,399.87) scale(0.93,1)" font-size="7.7" text-anchor="start" fill="#000" font-weight="bold" >1</text>
<text transform="translate(106.2,397.87) scale(0.93,1)" font-size="7.7" text-anchor="start" fill="#000" font-weight="bold" >2</text>
<text transform="translate(131.6,393.97) scale(0.93,1)" font-size="7.7" text-anchor="start" fill="#000" font-weight="bold" >4</text>
<text transform="translate(156,393.27) scale(0.93,1)" font-size="7.7" text-anchor="start" fill="#000" font-weight="bold" >5</text>
<text transform="translate(176.9,393.27) scale(0.93,1)" font-size="7.7" text-anchor="start" fill="#000" font-weight="bold" >5</text>
<text transform="translate(227.3,403.27) scale(0.93,1)" font-size="7.7" text-anchor="start" fill="#000" font-weight="bold" >5</text>
<text transform="translate(277.7,387.77) scale(0.93,1)" font-size="7.7" text-anchor="start" fill="#000" font-weight="bold" >8</text>
<text transform="translate(326.4,388.07) scale(0.93,1)" font-size="7.7" text-anchor="start" fill="#000" font-weight="bold" >8</text>
<text transform="translate(368.2,386.67) scale(0.93,1)" font-size="7.7" text-anchor="start" fill="#000" font-weight="bold" >9</text>
<text transform="translate(384.3,382.67) scale(0.93,1)" font-size="7.7" text-anchor="start" fill="#000" font-weight="bold" >11</text>
<rect x="45.3" y="244.7" width="129.4" height="9.3" fill="#fff" stroke="#000" stroke-width="1"/>
<line x1="49.2" y1="249.35" x2="72.6" y2="249.35" stroke="#000" stroke-width="1.7" />
<circle cx="60.9" cy="249.35" r="1.6" fill="#000"/>
<text x="76.2" y="251.98" font-size="7.3" text-anchor="start" fill="#000" font-weight="bold" >CR</text>
<line x1="88.5" y1="249.35" x2="112.3" y2="249.35" stroke="#a0a0a0" stroke-width="1.9" />
<circle cx="100.4" cy="249.35" r="1.7" fill="#a0a0a0"/>
<text x="116.2" y="251.98" font-size="7.3" text-anchor="start" fill="#000" font-weight="bold" >PR</text>
<line x1="127.3" y1="249.35" x2="151.1" y2="249.35" stroke="#000" stroke-width="1.9" stroke-dasharray="3.5,2"/>
<path d="M139.2,246.75 L141.8,249.35 L139.2,251.95 L136.6,249.35 Z" fill="#000"/>
<text x="153.8" y="251.98" font-size="7.3" text-anchor="start" fill="#000" font-weight="bold" >PR-L</text>
<text x="214.7" y="432" font-size="8.8" text-anchor="middle" fill="#000" font-weight="bold" style="stroke-width:0.45px">Months from Initiation of Study Treatment</text>
<text transform="translate(8.6,322.5) rotate(-90)" x="0" y="0" font-size="8.66" text-anchor="middle" font-weight="bold" style="stroke-width:0.45px" >Patients with Response, %</text>
<text x="0" y="439.5" font-size="23.5" text-anchor="start" fill="#000" font-weight="bold" style="stroke-width:0.6px">C</text>
<line x1="25.5" y1="446.06" x2="28.5" y2="446.06" stroke="#000" stroke-width="0.9" />
<text x="22.9" y="448.56" font-size="7" text-anchor="end" fill="#000" font-weight="bold" >80</text>
<line x1="25.5" y1="455.84" x2="28.5" y2="455.84" stroke="#000" stroke-width="0.9" />
<text x="22.9" y="458.34" font-size="7" text-anchor="end" fill="#000" font-weight="bold" >70</text>
<line x1="25.5" y1="465.62" x2="28.5" y2="465.62" stroke="#000" stroke-width="0.9" />
<text x="22.9" y="468.12" font-size="7" text-anchor="end" fill="#000" font-weight="bold" >60</text>
<line x1="25.5" y1="475.4" x2="28.5" y2="475.4" stroke="#000" stroke-width="0.9" />
<text x="22.9" y="477.9" font-size="7" text-anchor="end" fill="#000" font-weight="bold" >50</text>
<line x1="25.5" y1="485.18" x2="28.5" y2="485.18" stroke="#000" stroke-width="0.9" />
<text x="22.9" y="487.68" font-size="7" text-anchor="end" fill="#000" font-weight="bold" >40</text>
<line x1="25.5" y1="494.96" x2="28.5" y2="494.96" stroke="#000" stroke-width="0.9" />
<text x="22.9" y="497.46" font-size="7" text-anchor="end" fill="#000" font-weight="bold" >30</text>
<line x1="25.5" y1="504.74" x2="28.5" y2="504.74" stroke="#000" stroke-width="0.9" />
<text x="22.9" y="507.24" font-size="7" text-anchor="end" fill="#000" font-weight="bold" >20</text>
<line x1="25.5" y1="514.52" x2="28.5" y2="514.52" stroke="#000" stroke-width="0.9" />
<text x="22.9" y="517.02" font-size="7" text-anchor="end" fill="#000" font-weight="bold" >10</text>
<line x1="25.5" y1="524.3" x2="28.5" y2="524.3" stroke="#000" stroke-width="0.9" />
<text x="22.9" y="526.8" font-size="7" text-anchor="end" fill="#000" font-weight="bold" >0</text>
<line x1="25.5" y1="534.08" x2="28.5" y2="534.08" stroke="#000" stroke-width="0.9" />
<text x="22.9" y="536.58" font-size="7" text-anchor="end" fill="#000" font-weight="bold" >-10</text>
<line x1="25.5" y1="543.86" x2="28.5" y2="543.86" stroke="#000" stroke-width="0.9" />
<text x="22.9" y="546.36" font-size="7" text-anchor="end" fill="#000" font-weight="bold" >-20</text>
<line x1="25.5" y1="553.64" x2="28.5" y2="553.64" stroke="#000" stroke-width="0.9" />
<text x="22.9" y="556.14" font-size="7" text-anchor="end" fill="#000" font-weight="bold" >-30</text>
<line x1="25.5" y1="563.42" x2="28.5" y2="563.42" stroke="#000" stroke-width="0.9" />
<text x="22.9" y="565.92" font-size="7" text-anchor="end" fill="#000" font-weight="bold" >-40</text>
<line x1="25.5" y1="573.2" x2="28.5" y2="573.2" stroke="#000" stroke-width="0.9" />
<text x="22.9" y="575.7" font-size="7" text-anchor="end" fill="#000" font-weight="bold" >-50</text>
<line x1="25.5" y1="582.98" x2="28.5" y2="582.98" stroke="#000" stroke-width="0.9" />
<text x="22.9" y="585.48" font-size="7" text-anchor="end" fill="#000" font-weight="bold" >-60</text>
<line x1="25.5" y1="592.76" x2="28.5" y2="592.76" stroke="#000" stroke-width="0.9" />
<text x="22.9" y="595.26" font-size="7" text-anchor="end" fill="#000" font-weight="bold" >-70</text>
<line x1="25.5" y1="602.54" x2="28.5" y2="602.54" stroke="#000" stroke-width="0.9" />
<text x="22.9" y="605.04" font-size="7" text-anchor="end" fill="#000" font-weight="bold" >-80</text>
<line x1="25.5" y1="612.32" x2="28.5" y2="612.32" stroke="#000" stroke-width="0.9" />
<text x="22.9" y="614.82" font-size="7" text-anchor="end" fill="#000" font-weight="bold" >-90</text>
<line x1="25.5" y1="622.1" x2="28.5" y2="622.1" stroke="#000" stroke-width="0.9" />
<text x="22.9" y="624.6" font-size="7" text-anchor="end" fill="#000" font-weight="bold" >-100</text>
<line x1="26.9" y1="617.21" x2="28.5" y2="617.21" stroke="#000" stroke-width="0.7" />
<line x1="26.9" y1="607.43" x2="28.5" y2="607.43" stroke="#000" stroke-width="0.7" />
<line x1="26.9" y1="597.65" x2="28.5" y2="597.65" stroke="#000" stroke-width="0.7" />
<line x1="26.9" y1="587.87" x2="28.5" y2="587.87" stroke="#000" stroke-width="0.7" />
<line x1="26.9" y1="578.09" x2="28.5" y2="578.09" stroke="#000" stroke-width="0.7" />
<line x1="26.9" y1="568.31" x2="28.5" y2="568.31" stroke="#000" stroke-width="0.7" />
<line x1="26.9" y1="558.53" x2="28.5" y2="558.53" stroke="#000" stroke-width="0.7" />
<line x1="26.9" y1="548.75" x2="28.5" y2="548.75" stroke="#000" stroke-width="0.7" />
<line x1="26.9" y1="538.97" x2="28.5" y2="538.97" stroke="#000" stroke-width="0.7" />
<line x1="26.9" y1="529.19" x2="28.5" y2="529.19" stroke="#000" stroke-width="0.7" />
<line x1="26.9" y1="519.41" x2="28.5" y2="519.41" stroke="#000" stroke-width="0.7" />
<line x1="26.9" y1="509.63" x2="28.5" y2="509.63" stroke="#000" stroke-width="0.7" />
<line x1="26.9" y1="499.85" x2="28.5" y2="499.85" stroke="#000" stroke-width="0.7" />
<line x1="26.9" y1="490.07" x2="28.5" y2="490.07" stroke="#000" stroke-width="0.7" />
<line x1="26.9" y1="480.29" x2="28.5" y2="480.29" stroke="#000" stroke-width="0.7" />
<line x1="26.9" y1="470.51" x2="28.5" y2="470.51" stroke="#000" stroke-width="0.7" />
<line x1="26.9" y1="460.73" x2="28.5" y2="460.73" stroke="#000" stroke-width="0.7" />
<line x1="26.9" y1="450.95" x2="28.5" y2="450.95" stroke="#000" stroke-width="0.7" />
<line x1="366.5" y1="446.4" x2="368.5" y2="446.4" stroke="#000" stroke-width="0.9" />
<text x="371.5" y="448.8" font-size="7" text-anchor="start" fill="#000" font-weight="bold" >0</text>
<line x1="366.5" y1="464" x2="368.5" y2="464" stroke="#000" stroke-width="0.9" />
<text x="371.5" y="466.4" font-size="7" text-anchor="start" fill="#000" font-weight="bold" >-10</text>
<line x1="366.5" y1="481.6" x2="368.5" y2="481.6" stroke="#000" stroke-width="0.9" />
<text x="371.5" y="484" font-size="7" text-anchor="start" fill="#000" font-weight="bold" >-20</text>
<line x1="366.5" y1="499.2" x2="368.5" y2="499.2" stroke="#000" stroke-width="0.9" />
<text x="371.5" y="501.6" font-size="7" text-anchor="start" fill="#000" font-weight="bold" >-30</text>
<line x1="366.5" y1="516.8" x2="368.5" y2="516.8" stroke="#000" stroke-width="0.9" />
<text x="371.5" y="519.2" font-size="7" text-anchor="start" fill="#000" font-weight="bold" >-40</text>
<line x1="366.5" y1="534.4" x2="368.5" y2="534.4" stroke="#000" stroke-width="0.9" />
<text x="371.5" y="536.8" font-size="7" text-anchor="start" fill="#000" font-weight="bold" >-50</text>
<line x1="366.5" y1="552" x2="368.5" y2="552" stroke="#000" stroke-width="0.9" />
<text x="371.5" y="554.4" font-size="7" text-anchor="start" fill="#000" font-weight="bold" >-60</text>
<line x1="366.5" y1="569.6" x2="368.5" y2="569.6" stroke="#000" stroke-width="0.9" />
<text x="371.5" y="572" font-size="7" text-anchor="start" fill="#000" font-weight="bold" >-70</text>
<line x1="366.5" y1="587.2" x2="368.5" y2="587.2" stroke="#000" stroke-width="0.9" />
<text x="371.5" y="589.6" font-size="7" text-anchor="start" fill="#000" font-weight="bold" >-80</text>
<line x1="366.5" y1="604.8" x2="368.5" y2="604.8" stroke="#000" stroke-width="0.9" />
<text x="371.5" y="607.2" font-size="7" text-anchor="start" fill="#000" font-weight="bold" >-90</text>
<line x1="366.5" y1="622.4" x2="368.5" y2="622.4" stroke="#000" stroke-width="0.9" />
<text x="371.5" y="624.8" font-size="7" text-anchor="start" fill="#000" font-weight="bold" >-100</text>
<line x1="366.5" y1="449.92" x2="367.9" y2="449.92" stroke="#000" stroke-width="1" />
<line x1="366.5" y1="453.44" x2="367.9" y2="453.44" stroke="#000" stroke-width="1" />
<line x1="366.5" y1="456.96" x2="367.9" y2="456.96" stroke="#000" stroke-width="1" />
<line x1="366.5" y1="460.48" x2="367.9" y2="460.48" stroke="#000" stroke-width="1" />
<line x1="366.5" y1="467.52" x2="367.9" y2="467.52" stroke="#000" stroke-width="1" />
<line x1="366.5" y1="471.04" x2="367.9" y2="471.04" stroke="#000" stroke-width="1" />
<line x1="366.5" y1="474.56" x2="367.9" y2="474.56" stroke="#000" stroke-width="1" />
<line x1="366.5" y1="478.08" x2="367.9" y2="478.08" stroke="#000" stroke-width="1" />
<line x1="366.5" y1="485.12" x2="367.9" y2="485.12" stroke="#000" stroke-width="1" />
<line x1="366.5" y1="488.64" x2="367.9" y2="488.64" stroke="#000" stroke-width="1" />
<line x1="366.5" y1="492.16" x2="367.9" y2="492.16" stroke="#000" stroke-width="1" />
<line x1="366.5" y1="495.68" x2="367.9" y2="495.68" stroke="#000" stroke-width="1" />
<line x1="366.5" y1="502.72" x2="367.9" y2="502.72" stroke="#000" stroke-width="1" />
<line x1="366.5" y1="506.24" x2="367.9" y2="506.24" stroke="#000" stroke-width="1" />
<line x1="366.5" y1="509.76" x2="367.9" y2="509.76" stroke="#000" stroke-width="1" />
<line x1="366.5" y1="513.28" x2="367.9" y2="513.28" stroke="#000" stroke-width="1" />
<line x1="366.5" y1="520.32" x2="367.9" y2="520.32" stroke="#000" stroke-width="1" />
<line x1="366.5" y1="523.84" x2="367.9" y2="523.84" stroke="#000" stroke-width="1" />
<line x1="366.5" y1="527.36" x2="367.9" y2="527.36" stroke="#000" stroke-width="1" />
<line x1="366.5" y1="530.88" x2="367.9" y2="530.88" stroke="#000" stroke-width="1" />
<line x1="366.5" y1="537.92" x2="367.9" y2="537.92" stroke="#000" stroke-width="1" />
<line x1="366.5" y1="541.44" x2="367.9" y2="541.44" stroke="#000" stroke-width="1" />
<line x1="366.5" y1="544.96" x2="367.9" y2="544.96" stroke="#000" stroke-width="1" />
<line x1="366.5" y1="548.48" x2="367.9" y2="548.48" stroke="#000" stroke-width="1" />
<line x1="366.5" y1="555.52" x2="367.9" y2="555.52" stroke="#000" stroke-width="1" />
<line x1="366.5" y1="559.04" x2="367.9" y2="559.04" stroke="#000" stroke-width="1" />
<line x1="366.5" y1="562.56" x2="367.9" y2="562.56" stroke="#000" stroke-width="1" />
<line x1="366.5" y1="566.08" x2="367.9" y2="566.08" stroke="#000" stroke-width="1" />
<line x1="366.5" y1="573.12" x2="367.9" y2="573.12" stroke="#000" stroke-width="1" />
<line x1="366.5" y1="576.64" x2="367.9" y2="576.64" stroke="#000" stroke-width="1" />
<line x1="366.5" y1="580.16" x2="367.9" y2="580.16" stroke="#000" stroke-width="1" />
<line x1="366.5" y1="583.68" x2="367.9" y2="583.68" stroke="#000" stroke-width="1" />
<line x1="366.5" y1="590.72" x2="367.9" y2="590.72" stroke="#000" stroke-width="1" />
<line x1="366.5" y1="594.24" x2="367.9" y2="594.24" stroke="#000" stroke-width="1" />
<line x1="366.5" y1="597.76" x2="367.9" y2="597.76" stroke="#000" stroke-width="1" />
<line x1="366.5" y1="601.28" x2="367.9" y2="601.28" stroke="#000" stroke-width="1" />
<line x1="366.5" y1="608.32" x2="367.9" y2="608.32" stroke="#000" stroke-width="1" />
<line x1="366.5" y1="611.84" x2="367.9" y2="611.84" stroke="#000" stroke-width="1" />
<line x1="366.5" y1="615.36" x2="367.9" y2="615.36" stroke="#000" stroke-width="1" />
<line x1="366.5" y1="618.88" x2="367.9" y2="618.88" stroke="#000" stroke-width="1" />
<line x1="36" y1="624.2" x2="36" y2="627.4" stroke="#000" stroke-width="0.9" />
<text x="36" y="634.6" font-size="7" text-anchor="middle" fill="#000" font-weight="bold" >0</text>
<line x1="46.74" y1="624.2" x2="46.74" y2="626.2" stroke="#000" stroke-width="0.8" />
<line x1="57.48" y1="624.2" x2="57.48" y2="627.4" stroke="#000" stroke-width="0.9" />
<text x="57.48" y="634.6" font-size="7" text-anchor="middle" fill="#000" font-weight="bold" >2</text>
<line x1="68.22" y1="624.2" x2="68.22" y2="626.2" stroke="#000" stroke-width="0.8" />
<line x1="78.96" y1="624.2" x2="78.96" y2="627.4" stroke="#000" stroke-width="0.9" />
<text x="78.96" y="634.6" font-size="7" text-anchor="middle" fill="#000" font-weight="bold" >4</text>
<line x1="89.7" y1="624.2" x2="89.7" y2="626.2" stroke="#000" stroke-width="0.8" />
<line x1="100.44" y1="624.2" x2="100.44" y2="627.4" stroke="#000" stroke-width="0.9" />
<text x="100.44" y="634.6" font-size="7" text-anchor="middle" fill="#000" font-weight="bold" >6</text>
<line x1="111.18" y1="624.2" x2="111.18" y2="626.2" stroke="#000" stroke-width="0.8" />
<line x1="121.92" y1="624.2" x2="121.92" y2="627.4" stroke="#000" stroke-width="0.9" />
<text x="121.92" y="634.6" font-size="7" text-anchor="middle" fill="#000" font-weight="bold" >8</text>
<line x1="132.66" y1="624.2" x2="132.66" y2="626.2" stroke="#000" stroke-width="0.8" />
<line x1="143.4" y1="624.2" x2="143.4" y2="627.4" stroke="#000" stroke-width="0.9" />
<text x="143.4" y="634.6" font-size="7" text-anchor="middle" fill="#000" font-weight="bold" >10</text>
<line x1="154.14" y1="624.2" x2="154.14" y2="626.2" stroke="#000" stroke-width="0.8" />
<line x1="164.88" y1="624.2" x2="164.88" y2="627.4" stroke="#000" stroke-width="0.9" />
<text x="164.88" y="634.6" font-size="7" text-anchor="middle" fill="#000" font-weight="bold" >12</text>
<line x1="175.62" y1="624.2" x2="175.62" y2="626.2" stroke="#000" stroke-width="0.8" />
<line x1="186.36" y1="624.2" x2="186.36" y2="627.4" stroke="#000" stroke-width="0.9" />
<text x="186.36" y="634.6" font-size="7" text-anchor="middle" fill="#000" font-weight="bold" >14</text>
<line x1="197.1" y1="624.2" x2="197.1" y2="626.2" stroke="#000" stroke-width="0.8" />
<line x1="207.84" y1="624.2" x2="207.84" y2="627.4" stroke="#000" stroke-width="0.9" />
<text x="207.84" y="634.6" font-size="7" text-anchor="middle" fill="#000" font-weight="bold" >16</text>
<line x1="218.58" y1="624.2" x2="218.58" y2="626.2" stroke="#000" stroke-width="0.8" />
<line x1="229.32" y1="624.2" x2="229.32" y2="627.4" stroke="#000" stroke-width="0.9" />
<text x="229.32" y="634.6" font-size="7" text-anchor="middle" fill="#000" font-weight="bold" >18</text>
<line x1="240.06" y1="624.2" x2="240.06" y2="626.2" stroke="#000" stroke-width="0.8" />
<line x1="250.8" y1="624.2" x2="250.8" y2="627.4" stroke="#000" stroke-width="0.9" />
<text x="250.8" y="634.6" font-size="7" text-anchor="middle" fill="#000" font-weight="bold" >20</text>
<line x1="261.54" y1="624.2" x2="261.54" y2="626.2" stroke="#000" stroke-width="0.8" />
<line x1="272.28" y1="624.2" x2="272.28" y2="627.4" stroke="#000" stroke-width="0.9" />
<text x="272.28" y="634.6" font-size="7" text-anchor="middle" fill="#000" font-weight="bold" >22</text>
<line x1="283.02" y1="624.2" x2="283.02" y2="626.2" stroke="#000" stroke-width="0.8" />
<line x1="293.76" y1="624.2" x2="293.76" y2="627.4" stroke="#000" stroke-width="0.9" />
<text x="293.76" y="634.6" font-size="7" text-anchor="middle" fill="#000" font-weight="bold" >24</text>
<line x1="304.5" y1="624.2" x2="304.5" y2="626.2" stroke="#000" stroke-width="0.8" />
<line x1="315.24" y1="624.2" x2="315.24" y2="627.4" stroke="#000" stroke-width="0.9" />
<text x="315.24" y="634.6" font-size="7" text-anchor="middle" fill="#000" font-weight="bold" >26</text>
<line x1="325.98" y1="624.2" x2="325.98" y2="626.2" stroke="#000" stroke-width="0.8" />
<line x1="336.72" y1="624.2" x2="336.72" y2="627.4" stroke="#000" stroke-width="0.9" />
<text x="336.72" y="634.6" font-size="7" text-anchor="middle" fill="#000" font-weight="bold" >28</text>
<line x1="347.46" y1="624.2" x2="347.46" y2="626.2" stroke="#000" stroke-width="0.8" />
<line x1="358.2" y1="624.2" x2="358.2" y2="627.4" stroke="#000" stroke-width="0.9" />
<text x="358.2" y="634.6" font-size="7" text-anchor="middle" fill="#000" font-weight="bold" >30</text>
<line x1="28.5" y1="445.3" x2="28.5" y2="624.7" stroke="#000" stroke-width="1.2" />
<line x1="28" y1="624.2" x2="367" y2="624.2" stroke="#000" stroke-width="1.2" />
<line x1="366.5" y1="445.3" x2="366.5" y2="624.7" stroke="#000" stroke-width="1.2" />
<line x1="28" y1="445.3" x2="367" y2="445.3" stroke="#1a1a1a" stroke-width="2" />
<line x1="28.5" y1="524.3" x2="366.5" y2="524.3" stroke="#9a9a9a" stroke-width="1" />
<line x1="57.48" y1="535.9" x2="57.48" y2="581.7" stroke="#888888" stroke-width="1.1" />
<line x1="54.48" y1="535.9" x2="60.48" y2="535.9" stroke="#888888" stroke-width="1.1" />
<line x1="54.48" y1="581.7" x2="60.48" y2="581.7" stroke="#888888" stroke-width="1.1" />
<line x1="89.7" y1="554" x2="89.7" y2="590" stroke="#888888" stroke-width="1.1" />
<line x1="86.7" y1="554" x2="92.7" y2="554" stroke="#888888" stroke-width="1.1" />
<line x1="86.7" y1="590" x2="92.7" y2="590" stroke="#888888" stroke-width="1.1" />
<line x1="121.92" y1="560.8" x2="121.92" y2="600" stroke="#888888" stroke-width="1.1" />
<line x1="118.92" y1="560.8" x2="124.92" y2="560.8" stroke="#888888" stroke-width="1.1" />
<line x1="118.92" y1="600" x2="124.92" y2="600" stroke="#888888" stroke-width="1.1" />
<line x1="164.88" y1="579.9" x2="164.88" y2="603" stroke="#888888" stroke-width="1.1" />
<line x1="161.88" y1="579.9" x2="167.88" y2="579.9" stroke="#888888" stroke-width="1.1" />
<line x1="161.88" y1="603" x2="167.88" y2="603" stroke="#888888" stroke-width="1.1" />
<line x1="197.1" y1="580.4" x2="197.1" y2="603" stroke="#888888" stroke-width="1.1" />
<line x1="194.1" y1="580.4" x2="200.1" y2="580.4" stroke="#888888" stroke-width="1.1" />
<line x1="194.1" y1="603" x2="200.1" y2="603" stroke="#888888" stroke-width="1.1" />
<line x1="229.32" y1="579.1" x2="229.32" y2="605" stroke="#888888" stroke-width="1.1" />
<line x1="226.32" y1="579.1" x2="232.32" y2="579.1" stroke="#888888" stroke-width="1.1" />
<line x1="226.32" y1="605" x2="232.32" y2="605" stroke="#888888" stroke-width="1.1" />
<line x1="293.76" y1="581.1" x2="293.76" y2="607.6" stroke="#888888" stroke-width="1.1" />
<line x1="290.76" y1="581.1" x2="296.76" y2="581.1" stroke="#888888" stroke-width="1.1" />
<line x1="290.76" y1="607.6" x2="296.76" y2="607.6" stroke="#888888" stroke-width="1.1" />
<polyline points="36,446.4 57.48,567.6 68.22,572.6 78.96,577.8 89.7,581.7 100.44,585.3 111.18,588.5 121.92,592.1 132.66,594 143.4,596 154.14,597.5 164.88,598.8 197.1,596 229.32,605 250.8,605.6 272.28,606.8 293.76,607.6" fill="none" stroke="#888888" stroke-width="1.3" stroke-linejoin="round" stroke-dasharray="2.8,1.6"/>
<line x1="46.74" y1="456.5" x2="46.74" y2="528.6" stroke="#000" stroke-width="1.5" />
<line x1="43.44" y1="456.5" x2="50.04" y2="456.5" stroke="#000" stroke-width="1.5" />
<line x1="43.44" y1="528.6" x2="50.04" y2="528.6" stroke="#000" stroke-width="1.5" />
<line x1="57.48" y1="479.2" x2="57.48" y2="552.9" stroke="#000" stroke-width="1.5" />
<line x1="54.18" y1="479.2" x2="60.78" y2="479.2" stroke="#000" stroke-width="1.5" />
<line x1="54.18" y1="552.9" x2="60.78" y2="552.9" stroke="#000" stroke-width="1.5" />
<line x1="68.22" y1="517.7" x2="68.22" y2="593" stroke="#000" stroke-width="1.5" />
<line x1="64.92" y1="517.7" x2="71.52" y2="517.7" stroke="#000" stroke-width="1.5" />
<line x1="64.92" y1="593" x2="71.52" y2="593" stroke="#000" stroke-width="1.5" />
<line x1="78.96" y1="528" x2="78.96" y2="596" stroke="#000" stroke-width="1.5" />
<line x1="75.66" y1="528" x2="82.26" y2="528" stroke="#000" stroke-width="1.5" />
<line x1="75.66" y1="596" x2="82.26" y2="596" stroke="#000" stroke-width="1.5" />
<line x1="89.7" y1="527.5" x2="89.7" y2="598.9" stroke="#000" stroke-width="1.5" />
<line x1="86.4" y1="527.5" x2="93" y2="527.5" stroke="#000" stroke-width="1.5" />
<line x1="86.4" y1="598.9" x2="93" y2="598.9" stroke="#000" stroke-width="1.5" />
<line x1="100.44" y1="547.7" x2="100.44" y2="599.8" stroke="#000" stroke-width="1.5" />
<line x1="97.14" y1="547.7" x2="103.74" y2="547.7" stroke="#000" stroke-width="1.5" />
<line x1="97.14" y1="599.8" x2="103.74" y2="599.8" stroke="#000" stroke-width="1.5" />
<line x1="111.18" y1="572.6" x2="111.18" y2="606.8" stroke="#000" stroke-width="1.5" />
<line x1="107.88" y1="572.6" x2="114.48" y2="572.6" stroke="#000" stroke-width="1.5" />
<line x1="107.88" y1="606.8" x2="114.48" y2="606.8" stroke="#000" stroke-width="1.5" />
<line x1="121.92" y1="575.5" x2="121.92" y2="609.3" stroke="#000" stroke-width="1.5" />
<line x1="118.62" y1="575.5" x2="125.22" y2="575.5" stroke="#000" stroke-width="1.5" />
<line x1="118.62" y1="609.3" x2="125.22" y2="609.3" stroke="#000" stroke-width="1.5" />
<line x1="132.66" y1="580.4" x2="132.66" y2="612.6" stroke="#000" stroke-width="1.5" />
<line x1="129.36" y1="580.4" x2="135.96" y2="580.4" stroke="#000" stroke-width="1.5" />
<line x1="129.36" y1="612.6" x2="135.96" y2="612.6" stroke="#000" stroke-width="1.5" />
<line x1="143.4" y1="588" x2="143.4" y2="608.8" stroke="#000" stroke-width="1.5" />
<line x1="140.1" y1="588" x2="146.7" y2="588" stroke="#000" stroke-width="1.5" />
<line x1="140.1" y1="608.8" x2="146.7" y2="608.8" stroke="#000" stroke-width="1.5" />
<line x1="154.14" y1="589.7" x2="154.14" y2="610" stroke="#000" stroke-width="1.5" />
<line x1="150.84" y1="589.7" x2="157.44" y2="589.7" stroke="#000" stroke-width="1.5" />
<line x1="150.84" y1="610" x2="157.44" y2="610" stroke="#000" stroke-width="1.5" />
<line x1="164.88" y1="597" x2="164.88" y2="614.4" stroke="#000" stroke-width="1.5" />
<line x1="161.58" y1="597" x2="168.18" y2="597" stroke="#000" stroke-width="1.5" />
<line x1="161.58" y1="614.4" x2="168.18" y2="614.4" stroke="#000" stroke-width="1.5" />
<line x1="186.36" y1="601.3" x2="186.36" y2="611.9" stroke="#000" stroke-width="1.5" />
<line x1="183.06" y1="601.3" x2="189.66" y2="601.3" stroke="#000" stroke-width="1.5" />
<line x1="183.06" y1="611.9" x2="189.66" y2="611.9" stroke="#000" stroke-width="1.5" />
<line x1="207.84" y1="604.8" x2="207.84" y2="616.9" stroke="#000" stroke-width="1.5" />
<line x1="204.54" y1="604.8" x2="211.14" y2="604.8" stroke="#000" stroke-width="1.5" />
<line x1="204.54" y1="616.9" x2="211.14" y2="616.9" stroke="#000" stroke-width="1.5" />
<line x1="229.32" y1="601.3" x2="229.32" y2="614.4" stroke="#000" stroke-width="1.5" />
<line x1="226.02" y1="601.3" x2="232.62" y2="601.3" stroke="#000" stroke-width="1.5" />
<line x1="226.02" y1="614.4" x2="232.62" y2="614.4" stroke="#000" stroke-width="1.5" />
<line x1="250.8" y1="601.3" x2="250.8" y2="616.9" stroke="#000" stroke-width="1.5" />
<line x1="247.5" y1="601.3" x2="254.1" y2="601.3" stroke="#000" stroke-width="1.5" />
<line x1="247.5" y1="616.9" x2="254.1" y2="616.9" stroke="#000" stroke-width="1.5" />
<line x1="272.28" y1="601.3" x2="272.28" y2="615.6" stroke="#000" stroke-width="1.5" />
<line x1="268.98" y1="601.3" x2="275.58" y2="601.3" stroke="#000" stroke-width="1.5" />
<line x1="268.98" y1="615.6" x2="275.58" y2="615.6" stroke="#000" stroke-width="1.5" />
<line x1="293.76" y1="604.3" x2="293.76" y2="617.7" stroke="#000" stroke-width="1.5" />
<line x1="290.46" y1="604.3" x2="297.06" y2="604.3" stroke="#000" stroke-width="1.5" />
<line x1="290.46" y1="617.7" x2="297.06" y2="617.7" stroke="#000" stroke-width="1.5" />
<line x1="315.24" y1="603" x2="315.24" y2="617.7" stroke="#000" stroke-width="1.5" />
<line x1="311.94" y1="603" x2="318.54" y2="603" stroke="#000" stroke-width="1.5" />
<line x1="311.94" y1="617.7" x2="318.54" y2="617.7" stroke="#000" stroke-width="1.5" />
<line x1="336.72" y1="598.8" x2="336.72" y2="620.7" stroke="#000" stroke-width="1.5" />
<line x1="333.42" y1="598.8" x2="340.02" y2="598.8" stroke="#000" stroke-width="1.5" />
<line x1="333.42" y1="620.7" x2="340.02" y2="620.7" stroke="#000" stroke-width="1.5" />
<line x1="358.2" y1="598.8" x2="358.2" y2="614.4" stroke="#000" stroke-width="1.5" />
<line x1="354.9" y1="598.8" x2="361.5" y2="598.8" stroke="#000" stroke-width="1.5" />
<line x1="354.9" y1="614.4" x2="361.5" y2="614.4" stroke="#000" stroke-width="1.5" />
<polyline points="36,524.3 46.74,505.6 57.48,527.5 68.22,558.5 78.96,570.3 89.7,574.4 100.44,587.3 111.18,597.1 121.92,598.9 132.66,600 143.4,604.3 154.14,604.3 164.88,605 186.36,605.6 207.84,607.6 229.32,608 250.8,609.3 272.28,611.9 293.76,613.1 315.24,610.6 336.72,615 358.2,611.6" fill="none" stroke="#000" stroke-width="1.8" stroke-linejoin="round" />
<line x1="315" y1="461" x2="332.3" y2="461" stroke="#000" stroke-width="1.5" />
<line x1="315" y1="467.8" x2="332.3" y2="467.8" stroke="#888888" stroke-width="1.3" stroke-dasharray="2.8,1.6"/>
<text x="336" y="462.87" font-size="5.2" text-anchor="start" fill="#000" font-weight="bold" >ALC</text>
<text x="336" y="469.67" font-size="5.2" text-anchor="start" fill="#000" font-weight="bold" >SPD</text>
<text x="202.9" y="644.9" font-size="8.7" text-anchor="middle" fill="#000" font-weight="bold" style="stroke-width:0.45px">Months</text>
<text transform="translate(9,535.2) rotate(-90)" x="0" y="0" font-size="8.72" text-anchor="middle" font-weight="bold" style="stroke-width:0.45px" >Median ALC Change From Baseline, %</text>
<text transform="translate(388.3,534.9) rotate(90)" x="0" y="0" font-size="8.72" text-anchor="middle" font-weight="bold" style="stroke-width:0.45px" >Median SPD Change From Baseline, %</text>
<text x="-0.5" y="650.8" font-size="23.5" text-anchor="start" fill="#000" font-weight="bold" style="stroke-width:0.6px">D</text>
<line x1="28.5" y1="805.98" x2="390.7" y2="805.98" stroke="#dedede" stroke-width="0.8" />
<line x1="28.5" y1="789.86" x2="390.7" y2="789.86" stroke="#dedede" stroke-width="0.8" />
<line x1="28.5" y1="773.74" x2="390.7" y2="773.74" stroke="#dedede" stroke-width="0.8" />
<line x1="28.5" y1="757.62" x2="390.7" y2="757.62" stroke="#dedede" stroke-width="0.8" />
<line x1="28.5" y1="741.5" x2="390.7" y2="741.5" stroke="#dedede" stroke-width="0.8" />
<line x1="28.5" y1="725.38" x2="390.7" y2="725.38" stroke="#dedede" stroke-width="0.8" />
<line x1="28.5" y1="709.26" x2="390.7" y2="709.26" stroke="#dedede" stroke-width="0.8" />
<line x1="28.5" y1="693.14" x2="390.7" y2="693.14" stroke="#dedede" stroke-width="0.8" />
<line x1="28.5" y1="677.02" x2="390.7" y2="677.02" stroke="#dedede" stroke-width="0.8" />
<line x1="28.5" y1="660.9" x2="390.7" y2="660.9" stroke="#dedede" stroke-width="0.8" />
<line x1="28.5" y1="822.4" x2="390.7" y2="822.4" stroke="#e6e6e6" stroke-width="0.8" />
<line x1="25.5" y1="822.1" x2="28.5" y2="822.1" stroke="#000" stroke-width="0.9" />
<text transform="translate(23.3,824.4) scale(0.92,1)" font-size="7.4" text-anchor="end" fill="#000" font-weight="normal" >0</text>
<line x1="25.5" y1="805.98" x2="28.5" y2="805.98" stroke="#000" stroke-width="0.9" />
<text transform="translate(23.3,808.28) scale(0.92,1)" font-size="7.4" text-anchor="end" fill="#000" font-weight="normal" >10</text>
<line x1="25.5" y1="789.86" x2="28.5" y2="789.86" stroke="#000" stroke-width="0.9" />
<text transform="translate(23.3,792.16) scale(0.92,1)" font-size="7.4" text-anchor="end" fill="#000" font-weight="normal" >20</text>
<line x1="25.5" y1="773.74" x2="28.5" y2="773.74" stroke="#000" stroke-width="0.9" />
<text transform="translate(23.3,776.04) scale(0.92,1)" font-size="7.4" text-anchor="end" fill="#000" font-weight="normal" >30</text>
<line x1="25.5" y1="757.62" x2="28.5" y2="757.62" stroke="#000" stroke-width="0.9" />
<text transform="translate(23.3,759.92) scale(0.92,1)" font-size="7.4" text-anchor="end" fill="#000" font-weight="normal" >40</text>
<line x1="25.5" y1="741.5" x2="28.5" y2="741.5" stroke="#000" stroke-width="0.9" />
<text transform="translate(23.3,743.8) scale(0.92,1)" font-size="7.4" text-anchor="end" fill="#000" font-weight="normal" >50</text>
<line x1="25.5" y1="725.38" x2="28.5" y2="725.38" stroke="#000" stroke-width="0.9" />
<text transform="translate(23.3,727.68) scale(0.92,1)" font-size="7.4" text-anchor="end" fill="#000" font-weight="normal" >60</text>
<line x1="25.5" y1="709.26" x2="28.5" y2="709.26" stroke="#000" stroke-width="0.9" />
<text transform="translate(23.3,711.56) scale(0.92,1)" font-size="7.4" text-anchor="end" fill="#000" font-weight="normal" >70</text>
<line x1="25.5" y1="693.14" x2="28.5" y2="693.14" stroke="#000" stroke-width="0.9" />
<text transform="translate(23.3,695.44) scale(0.92,1)" font-size="7.4" text-anchor="end" fill="#000" font-weight="normal" >80</text>
<line x1="25.5" y1="677.02" x2="28.5" y2="677.02" stroke="#000" stroke-width="0.9" />
<text transform="translate(23.3,679.32) scale(0.92,1)" font-size="7.4" text-anchor="end" fill="#000" font-weight="normal" >90</text>
<line x1="25.5" y1="660.9" x2="28.5" y2="660.9" stroke="#000" stroke-width="0.9" />
<text transform="translate(23.3,663.2) scale(0.92,1)" font-size="7.4" text-anchor="end" fill="#000" font-weight="normal" >100</text>
<line x1="31.3" y1="825.3" x2="31.3" y2="828.5" stroke="#000" stroke-width="0.9" />
<line x1="39.43" y1="825.3" x2="39.43" y2="828.5" stroke="#000" stroke-width="0.9" />
<line x1="47.56" y1="825.3" x2="47.56" y2="828.5" stroke="#000" stroke-width="0.9" />
<line x1="55.69" y1="825.3" x2="55.69" y2="828.5" stroke="#000" stroke-width="0.9" />
<line x1="63.82" y1="825.3" x2="63.82" y2="828.5" stroke="#000" stroke-width="0.9" />
<line x1="71.95" y1="825.3" x2="71.95" y2="828.5" stroke="#000" stroke-width="0.9" />
<line x1="80.08" y1="825.3" x2="80.08" y2="828.5" stroke="#000" stroke-width="0.9" />
<line x1="88.21" y1="825.3" x2="88.21" y2="828.5" stroke="#000" stroke-width="0.9" />
<line x1="96.34" y1="825.3" x2="96.34" y2="828.5" stroke="#000" stroke-width="0.9" />
<line x1="104.47" y1="825.3" x2="104.47" y2="828.5" stroke="#000" stroke-width="0.9" />
<line x1="112.6" y1="825.3" x2="112.6" y2="828.5" stroke="#000" stroke-width="0.9" />
<line x1="120.73" y1="825.3" x2="120.73" y2="828.5" stroke="#000" stroke-width="0.9" />
<line x1="128.86" y1="825.3" x2="128.86" y2="828.5" stroke="#000" stroke-width="0.9" />
<line x1="136.99" y1="825.3" x2="136.99" y2="828.5" stroke="#000" stroke-width="0.9" />
<line x1="145.12" y1="825.3" x2="145.12" y2="828.5" stroke="#000" stroke-width="0.9" />
<line x1="153.25" y1="825.3" x2="153.25" y2="828.5" stroke="#000" stroke-width="0.9" />
<line x1="161.38" y1="825.3" x2="161.38" y2="828.5" stroke="#000" stroke-width="0.9" />
<line x1="169.51" y1="825.3" x2="169.51" y2="828.5" stroke="#000" stroke-width="0.9" />
<line x1="177.64" y1="825.3" x2="177.64" y2="828.5" stroke="#000" stroke-width="0.9" />
<line x1="185.77" y1="825.3" x2="185.77" y2="828.5" stroke="#000" stroke-width="0.9" />
<line x1="193.9" y1="825.3" x2="193.9" y2="828.5" stroke="#000" stroke-width="0.9" />
<line x1="202.03" y1="825.3" x2="202.03" y2="828.5" stroke="#000" stroke-width="0.9" />
<line x1="210.16" y1="825.3" x2="210.16" y2="828.5" stroke="#000" stroke-width="0.9" />
<line x1="218.29" y1="825.3" x2="218.29" y2="828.5" stroke="#000" stroke-width="0.9" />
<line x1="226.42" y1="825.3" x2="226.42" y2="828.5" stroke="#000" stroke-width="0.9" />
<line x1="234.55" y1="825.3" x2="234.55" y2="828.5" stroke="#000" stroke-width="0.9" />
<line x1="242.68" y1="825.3" x2="242.68" y2="828.5" stroke="#000" stroke-width="0.9" />
<line x1="250.81" y1="825.3" x2="250.81" y2="828.5" stroke="#000" stroke-width="0.9" />
<line x1="258.94" y1="825.3" x2="258.94" y2="828.5" stroke="#000" stroke-width="0.9" />
<line x1="267.07" y1="825.3" x2="267.07" y2="828.5" stroke="#000" stroke-width="0.9" />
<line x1="275.2" y1="825.3" x2="275.2" y2="828.5" stroke="#000" stroke-width="0.9" />
<line x1="283.33" y1="825.3" x2="283.33" y2="828.5" stroke="#000" stroke-width="0.9" />
<line x1="291.46" y1="825.3" x2="291.46" y2="828.5" stroke="#000" stroke-width="0.9" />
<line x1="299.59" y1="825.3" x2="299.59" y2="828.5" stroke="#000" stroke-width="0.9" />
<line x1="307.72" y1="825.3" x2="307.72" y2="828.5" stroke="#000" stroke-width="0.9" />
<line x1="315.85" y1="825.3" x2="315.85" y2="828.5" stroke="#000" stroke-width="0.9" />
<line x1="323.98" y1="825.3" x2="323.98" y2="828.5" stroke="#000" stroke-width="0.9" />
<line x1="332.11" y1="825.3" x2="332.11" y2="828.5" stroke="#000" stroke-width="0.9" />
<line x1="340.24" y1="825.3" x2="340.24" y2="828.5" stroke="#000" stroke-width="0.9" />
<line x1="348.37" y1="825.3" x2="348.37" y2="828.5" stroke="#000" stroke-width="0.9" />
<line x1="356.5" y1="825.3" x2="356.5" y2="828.5" stroke="#000" stroke-width="0.9" />
<line x1="364.63" y1="825.3" x2="364.63" y2="828.5" stroke="#000" stroke-width="0.9" />
<line x1="372.76" y1="825.3" x2="372.76" y2="828.5" stroke="#000" stroke-width="0.9" />
<line x1="380.89" y1="825.3" x2="380.89" y2="828.5" stroke="#000" stroke-width="0.9" />
<line x1="389.02" y1="825.3" x2="389.02" y2="828.5" stroke="#000" stroke-width="0.9" />
<text x="31.9" y="837.9" font-size="7" text-anchor="middle" fill="#000" font-weight="normal" >0</text>
<text x="56.29" y="837.9" font-size="7" text-anchor="middle" fill="#000" font-weight="normal" >3</text>
<text x="80.68" y="837.9" font-size="7" text-anchor="middle" fill="#000" font-weight="normal" >6</text>
<text x="105.07" y="837.9" font-size="7" text-anchor="middle" fill="#000" font-weight="normal" >9</text>
<text x="129.46" y="837.9" font-size="7" text-anchor="middle" fill="#000" font-weight="normal" >12</text>
<text x="153.85" y="837.9" font-size="7" text-anchor="middle" fill="#000" font-weight="normal" >15</text>
<text x="178.24" y="837.9" font-size="7" text-anchor="middle" fill="#000" font-weight="normal" >18</text>
<text x="227.02" y="837.9" font-size="7" text-anchor="middle" fill="#000" font-weight="normal" >24</text>
<text x="275.8" y="837.9" font-size="7" text-anchor="middle" fill="#000" font-weight="normal" >30</text>
<text x="324.58" y="837.9" font-size="7" text-anchor="middle" fill="#000" font-weight="normal" >36</text>
<text x="373.36" y="837.9" font-size="7" text-anchor="middle" fill="#000" font-weight="normal" >42</text>
<line x1="28.5" y1="658.3" x2="28.5" y2="825.8" stroke="#000" stroke-width="1.3" />
<line x1="28" y1="825.3" x2="391.2" y2="825.3" stroke="#000" stroke-width="1.3" />
<line x1="390.7" y1="658.3" x2="390.7" y2="825.8" stroke="#000" stroke-width="1.2" />
<line x1="28" y1="658.3" x2="391.2" y2="658.3" stroke="#000" stroke-width="1.2" />
<polyline points="55.69,780.19 80.08,744.72 104.47,717.32 128.86,717.32 153.25,723.77 177.64,728.6 226.42,728.6 275.2,717.32 323.98,723.77 372.76,728.6 382.52,733.44" fill="none" stroke="#a0a0a0" stroke-width="1.9" stroke-linejoin="round" />
<circle cx="55.69" cy="780.19" r="1.7" fill="#a0a0a0"/>
<circle cx="80.08" cy="744.72" r="1.7" fill="#a0a0a0"/>
<circle cx="104.47" cy="717.32" r="1.7" fill="#a0a0a0"/>
<circle cx="128.86" cy="717.32" r="1.7" fill="#a0a0a0"/>
<circle cx="153.25" cy="723.77" r="1.7" fill="#a0a0a0"/>
<circle cx="177.64" cy="728.6" r="1.7" fill="#a0a0a0"/>
<circle cx="226.42" cy="728.6" r="1.7" fill="#a0a0a0"/>
<circle cx="275.2" cy="717.32" r="1.7" fill="#a0a0a0"/>
<circle cx="323.98" cy="723.77" r="1.7" fill="#a0a0a0"/>
<circle cx="372.76" cy="728.6" r="1.7" fill="#a0a0a0"/>
<circle cx="382.52" cy="733.44" r="1.7" fill="#a0a0a0"/>
<polyline points="55.69,765.68 80.08,775.35 104.47,801.14 128.86,801.14 153.25,801.14 177.64,801.14 226.42,801.14 275.2,812.43 323.98,812.43 372.76,812.43 382.52,812.43" fill="none" stroke="#000" stroke-width="1.9" stroke-linejoin="round" stroke-dasharray="3.5,2"/>
<path d="M55.69,763.08 L58.29,765.68 L55.69,768.28 L53.09,765.68 Z" fill="#000"/>
<path d="M80.08,772.75 L82.68,775.35 L80.08,777.95 L77.48,775.35 Z" fill="#000"/>
<path d="M104.47,798.54 L107.07,801.14 L104.47,803.74 L101.87,801.14 Z" fill="#000"/>
<path d="M128.86,798.54 L131.46,801.14 L128.86,803.74 L126.26,801.14 Z" fill="#000"/>
<path d="M153.25,798.54 L155.85,801.14 L153.25,803.74 L150.65,801.14 Z" fill="#000"/>
<path d="M177.64,798.54 L180.24,801.14 L177.64,803.74 L175.04,801.14 Z" fill="#000"/>
<path d="M226.42,798.54 L229.02,801.14 L226.42,803.74 L223.82,801.14 Z" fill="#000"/>
<path d="M275.2,809.83 L277.8,812.43 L275.2,815.03 L272.6,812.43 Z" fill="#000"/>
<path d="M323.98,809.83 L326.58,812.43 L323.98,815.03 L321.38,812.43 Z" fill="#000"/>
<path d="M372.76,809.83 L375.36,812.43 L372.76,815.03 L370.16,812.43 Z" fill="#000"/>
<path d="M382.52,809.83 L385.12,812.43 L382.52,815.03 L379.92,812.43 Z" fill="#000"/>
<polyline points="80.08,822.1 104.47,817.26 128.86,812.43 153.25,805.98 177.64,801.14 226.42,801.14 275.2,801.14 323.98,796.31 372.76,791.47 382.52,785.02" fill="none" stroke="#000" stroke-width="1.9" stroke-linejoin="round" />
<rect x="78.48" y="820.5" width="3.2" height="3.2" fill="#000"/>
<rect x="102.87" y="815.66" width="3.2" height="3.2" fill="#000"/>
<rect x="127.26" y="810.83" width="3.2" height="3.2" fill="#000"/>
<rect x="151.65" y="804.38" width="3.2" height="3.2" fill="#000"/>
<rect x="176.04" y="799.54" width="3.2" height="3.2" fill="#000"/>
<rect x="224.82" y="799.54" width="3.2" height="3.2" fill="#000"/>
<rect x="273.6" y="799.54" width="3.2" height="3.2" fill="#000"/>
<rect x="322.38" y="794.71" width="3.2" height="3.2" fill="#000"/>
<rect x="371.16" y="789.87" width="3.2" height="3.2" fill="#000"/>
<rect x="380.92" y="783.42" width="3.2" height="3.2" fill="#000"/>
<text x="60.5" y="780.52" font-size="7" text-anchor="start" fill="#000" font-weight="normal" >26</text>
<text x="83" y="748.52" font-size="7" text-anchor="start" fill="#000" font-weight="normal" >48</text>
<text x="106.3" y="715.12" font-size="7" text-anchor="start" fill="#000" font-weight="normal" >65</text>
<text x="131.5" y="715.12" font-size="7" text-anchor="start" fill="#000" font-weight="normal" >65</text>
<text x="155" y="721.42" font-size="7" text-anchor="start" fill="#000" font-weight="normal" >61</text>
<text x="179.3" y="725.92" font-size="7" text-anchor="start" fill="#000" font-weight="normal" >58</text>
<text x="227.7" y="725.22" font-size="7" text-anchor="start" fill="#000" font-weight="normal" >58</text>
<text x="276.8" y="714.52" font-size="7" text-anchor="start" fill="#000" font-weight="normal" >65</text>
<text x="326" y="721.42" font-size="7" text-anchor="start" fill="#000" font-weight="normal" >61</text>
<text x="364.5" y="725.92" font-size="7" text-anchor="start" fill="#000" font-weight="normal" >58</text>
<text x="382.6" y="739.82" font-size="7" text-anchor="start" fill="#000" font-weight="normal" >55</text>
<text x="57.4" y="764.92" font-size="7" text-anchor="start" fill="#000" font-weight="normal" >35</text>
<text x="83" y="773.52" font-size="7" text-anchor="start" fill="#000" font-weight="normal" >29</text>
<text x="106.5" y="798.62" font-size="7" text-anchor="start" fill="#000" font-weight="normal" >13</text>
<text x="131.5" y="798.62" font-size="7" text-anchor="start" fill="#000" font-weight="normal" >13</text>
<text x="155.4" y="798.62" font-size="7" text-anchor="start" fill="#000" font-weight="normal" >13</text>
<text x="180" y="798.62" font-size="7" text-anchor="start" fill="#000" font-weight="normal" >13</text>
<text x="220.7" y="811.32" font-size="7" text-anchor="start" fill="#000" font-weight="normal" >13</text>
<text x="276.8" y="810.82" font-size="7" text-anchor="start" fill="#000" font-weight="normal" >6</text>
<text x="326" y="810.32" font-size="7" text-anchor="start" fill="#000" font-weight="normal" >6</text>
<text x="367.5" y="810.52" font-size="7" text-anchor="start" fill="#000" font-weight="normal" >6</text>
<text x="383.4" y="810.52" font-size="7" text-anchor="start" fill="#000" font-weight="normal" >6</text>
<text x="82.5" y="819.02" font-size="7" text-anchor="start" fill="#000" font-weight="normal" >0</text>
<text x="105" y="814.52" font-size="7" text-anchor="start" fill="#000" font-weight="normal" >3</text>
<text x="131.5" y="818.92" font-size="7" text-anchor="start" fill="#000" font-weight="normal" >6</text>
<text x="155" y="813.82" font-size="7" text-anchor="start" fill="#000" font-weight="normal" >10</text>
<text x="170" y="810.32" font-size="7" text-anchor="start" fill="#000" font-weight="normal" >13</text>
<text x="228.2" y="798.72" font-size="7" text-anchor="start" fill="#000" font-weight="normal" >13</text>
<text x="276.8" y="798.52" font-size="7" text-anchor="start" fill="#000" font-weight="normal" >13</text>
<text x="326" y="793.72" font-size="7" text-anchor="start" fill="#000" font-weight="normal" >16</text>
<text x="373.8" y="797.02" font-size="7" text-anchor="start" fill="#000" font-weight="normal" >19</text>
<text x="381.4" y="782.52" font-size="7" text-anchor="start" fill="#000" font-weight="normal" >23</text>
<rect x="37" y="663.3" width="136" height="9.8" fill="#fff" stroke="#000" stroke-width="1"/>
<line x1="44.1" y1="668.2" x2="67" y2="668.2" stroke="#000" stroke-width="1.9" />
<rect x="53.95" y="666.6" width="3.2" height="3.2" fill="#000"/>
<text x="70.5" y="670.94" font-size="7.6" text-anchor="start" fill="#000" font-weight="normal" >CR</text>
<line x1="84.7" y1="668.2" x2="105.8" y2="668.2" stroke="#a0a0a0" stroke-width="1.9" />
<circle cx="95.25" cy="668.2" r="1.7" fill="#a0a0a0"/>
<text x="110.2" y="670.94" font-size="7.6" text-anchor="start" fill="#000" font-weight="normal" >PR</text>
<line x1="122" y1="668.2" x2="146.6" y2="668.2" stroke="#000" stroke-width="1.9" stroke-dasharray="3.5,2"/>
<path d="M134.3,665.6 L136.9,668.2 L134.3,670.8 L131.7,668.2 Z" fill="#000"/>
<text x="149" y="670.94" font-size="7.6" text-anchor="start" fill="#000" font-weight="normal" >PR-L</text>
<text x="210.1" y="851.3" font-size="8.8" text-anchor="middle" fill="#000" font-weight="bold" style="stroke-width:0.45px">Months from Initiation of Study Treatment</text>
<text transform="translate(8.5,742.5) rotate(-90)" x="0" y="0" font-size="8.66" text-anchor="middle" font-weight="bold" style="stroke-width:0.45px" >Patients with Response, %</text>
<text x="-0.5" y="861.5" font-size="23.5" text-anchor="start" fill="#000" font-weight="bold" style="stroke-width:0.6px">E</text>
<line x1="25.5" y1="869.65" x2="28.5" y2="869.65" stroke="#000" stroke-width="0.9" />
<text x="25" y="872.15" font-size="7.4" text-anchor="end" fill="#000" font-weight="bold" >300</text>
<line x1="25.5" y1="913.5" x2="28.5" y2="913.5" stroke="#000" stroke-width="0.9" />
<text x="25" y="916" font-size="7.4" text-anchor="end" fill="#000" font-weight="bold" >200</text>
<line x1="25.5" y1="957.35" x2="28.5" y2="957.35" stroke="#000" stroke-width="0.9" />
<text x="25" y="959.85" font-size="7.4" text-anchor="end" fill="#000" font-weight="bold" >100</text>
<line x1="25.5" y1="1001.2" x2="28.5" y2="1001.2" stroke="#000" stroke-width="0.9" />
<text x="25" y="1003.7" font-size="7.4" text-anchor="end" fill="#000" font-weight="bold" >0</text>
<line x1="25.5" y1="1045.05" x2="28.5" y2="1045.05" stroke="#000" stroke-width="0.9" />
<text x="25" y="1047.55" font-size="7.4" text-anchor="end" fill="#000" font-weight="bold" >-100</text>
<line x1="26.5" y1="1040.66" x2="28.5" y2="1040.66" stroke="#000" stroke-width="0.9" />
<line x1="26.5" y1="1036.28" x2="28.5" y2="1036.28" stroke="#000" stroke-width="0.9" />
<line x1="26.5" y1="1031.89" x2="28.5" y2="1031.89" stroke="#000" stroke-width="0.9" />
<line x1="26.5" y1="1027.51" x2="28.5" y2="1027.51" stroke="#000" stroke-width="0.9" />
<line x1="26.5" y1="1023.12" x2="28.5" y2="1023.12" stroke="#000" stroke-width="0.9" />
<line x1="26.5" y1="1018.74" x2="28.5" y2="1018.74" stroke="#000" stroke-width="0.9" />
<line x1="26.5" y1="1014.36" x2="28.5" y2="1014.36" stroke="#000" stroke-width="0.9" />
<line x1="26.5" y1="1009.97" x2="28.5" y2="1009.97" stroke="#000" stroke-width="0.9" />
<line x1="26.5" y1="1005.59" x2="28.5" y2="1005.59" stroke="#000" stroke-width="0.9" />
<line x1="26.5" y1="996.82" x2="28.5" y2="996.82" stroke="#000" stroke-width="0.9" />
<line x1="26.5" y1="992.43" x2="28.5" y2="992.43" stroke="#000" stroke-width="0.9" />
<line x1="26.5" y1="988.05" x2="28.5" y2="988.05" stroke="#000" stroke-width="0.9" />
<line x1="26.5" y1="983.66" x2="28.5" y2="983.66" stroke="#000" stroke-width="0.9" />
<line x1="26.5" y1="979.28" x2="28.5" y2="979.28" stroke="#000" stroke-width="0.9" />
<line x1="26.5" y1="974.89" x2="28.5" y2="974.89" stroke="#000" stroke-width="0.9" />
<line x1="26.5" y1="970.5" x2="28.5" y2="970.5" stroke="#000" stroke-width="0.9" />
<line x1="26.5" y1="966.12" x2="28.5" y2="966.12" stroke="#000" stroke-width="0.9" />
<line x1="26.5" y1="961.74" x2="28.5" y2="961.74" stroke="#000" stroke-width="0.9" />
<line x1="26.5" y1="952.97" x2="28.5" y2="952.97" stroke="#000" stroke-width="0.9" />
<line x1="26.5" y1="948.58" x2="28.5" y2="948.58" stroke="#000" stroke-width="0.9" />
<line x1="26.5" y1="944.2" x2="28.5" y2="944.2" stroke="#000" stroke-width="0.9" />
<line x1="26.5" y1="939.81" x2="28.5" y2="939.81" stroke="#000" stroke-width="0.9" />
<line x1="26.5" y1="935.43" x2="28.5" y2="935.43" stroke="#000" stroke-width="0.9" />
<line x1="26.5" y1="931.04" x2="28.5" y2="931.04" stroke="#000" stroke-width="0.9" />
<line x1="26.5" y1="926.66" x2="28.5" y2="926.66" stroke="#000" stroke-width="0.9" />
<line x1="26.5" y1="922.27" x2="28.5" y2="922.27" stroke="#000" stroke-width="0.9" />
<line x1="26.5" y1="917.88" x2="28.5" y2="917.88" stroke="#000" stroke-width="0.9" />
<line x1="26.5" y1="909.12" x2="28.5" y2="909.12" stroke="#000" stroke-width="0.9" />
<line x1="26.5" y1="904.73" x2="28.5" y2="904.73" stroke="#000" stroke-width="0.9" />
<line x1="26.5" y1="900.35" x2="28.5" y2="900.35" stroke="#000" stroke-width="0.9" />
<line x1="26.5" y1="895.96" x2="28.5" y2="895.96" stroke="#000" stroke-width="0.9" />
<line x1="26.5" y1="891.58" x2="28.5" y2="891.58" stroke="#000" stroke-width="0.9" />
<line x1="26.5" y1="887.19" x2="28.5" y2="887.19" stroke="#000" stroke-width="0.9" />
<line x1="26.5" y1="882.81" x2="28.5" y2="882.81" stroke="#000" stroke-width="0.9" />
<line x1="26.5" y1="878.42" x2="28.5" y2="878.42" stroke="#000" stroke-width="0.9" />
<line x1="26.5" y1="874.04" x2="28.5" y2="874.04" stroke="#000" stroke-width="0.9" />
<line x1="366.5" y1="868.9" x2="368.5" y2="868.9" stroke="#000" stroke-width="0.9" />
<text x="371.5" y="871.3" font-size="7" text-anchor="start" fill="#000" font-weight="bold" >0</text>
<line x1="366.5" y1="886.52" x2="368.5" y2="886.52" stroke="#000" stroke-width="0.9" />
<text x="371.5" y="888.92" font-size="7" text-anchor="start" fill="#000" font-weight="bold" >-10</text>
<line x1="366.5" y1="904.14" x2="368.5" y2="904.14" stroke="#000" stroke-width="0.9" />
<text x="371.5" y="906.54" font-size="7" text-anchor="start" fill="#000" font-weight="bold" >-20</text>
<line x1="366.5" y1="921.76" x2="368.5" y2="921.76" stroke="#000" stroke-width="0.9" />
<text x="371.5" y="924.16" font-size="7" text-anchor="start" fill="#000" font-weight="bold" >-30</text>
<line x1="366.5" y1="939.38" x2="368.5" y2="939.38" stroke="#000" stroke-width="0.9" />
<text x="371.5" y="941.78" font-size="7" text-anchor="start" fill="#000" font-weight="bold" >-40</text>
<line x1="366.5" y1="957" x2="368.5" y2="957" stroke="#000" stroke-width="0.9" />
<text x="371.5" y="959.4" font-size="7" text-anchor="start" fill="#000" font-weight="bold" >-50</text>
<line x1="366.5" y1="974.62" x2="368.5" y2="974.62" stroke="#000" stroke-width="0.9" />
<text x="371.5" y="977.02" font-size="7" text-anchor="start" fill="#000" font-weight="bold" >-60</text>
<line x1="366.5" y1="992.24" x2="368.5" y2="992.24" stroke="#000" stroke-width="0.9" />
<text x="371.5" y="994.64" font-size="7" text-anchor="start" fill="#000" font-weight="bold" >-70</text>
<line x1="366.5" y1="1009.86" x2="368.5" y2="1009.86" stroke="#000" stroke-width="0.9" />
<text x="371.5" y="1012.26" font-size="7" text-anchor="start" fill="#000" font-weight="bold" >-80</text>
<line x1="366.5" y1="1027.48" x2="368.5" y2="1027.48" stroke="#000" stroke-width="0.9" />
<text x="371.5" y="1029.88" font-size="7" text-anchor="start" fill="#000" font-weight="bold" >-90</text>
<line x1="366.5" y1="1045.1" x2="368.5" y2="1045.1" stroke="#000" stroke-width="0.9" />
<text x="371.5" y="1047.5" font-size="7" text-anchor="start" fill="#000" font-weight="bold" >-100</text>
<line x1="366.5" y1="872.42" x2="367.9" y2="872.42" stroke="#000" stroke-width="1" />
<line x1="366.5" y1="875.95" x2="367.9" y2="875.95" stroke="#000" stroke-width="1" />
<line x1="366.5" y1="879.47" x2="367.9" y2="879.47" stroke="#000" stroke-width="1" />
<line x1="366.5" y1="883" x2="367.9" y2="883" stroke="#000" stroke-width="1" />
<line x1="366.5" y1="890.04" x2="367.9" y2="890.04" stroke="#000" stroke-width="1" />
<line x1="366.5" y1="893.57" x2="367.9" y2="893.57" stroke="#000" stroke-width="1" />
<line x1="366.5" y1="897.09" x2="367.9" y2="897.09" stroke="#000" stroke-width="1" />
<line x1="366.5" y1="900.62" x2="367.9" y2="900.62" stroke="#000" stroke-width="1" />
<line x1="366.5" y1="907.66" x2="367.9" y2="907.66" stroke="#000" stroke-width="1" />
<line x1="366.5" y1="911.19" x2="367.9" y2="911.19" stroke="#000" stroke-width="1" />
<line x1="366.5" y1="914.71" x2="367.9" y2="914.71" stroke="#000" stroke-width="1" />
<line x1="366.5" y1="918.24" x2="367.9" y2="918.24" stroke="#000" stroke-width="1" />
<line x1="366.5" y1="925.28" x2="367.9" y2="925.28" stroke="#000" stroke-width="1" />
<line x1="366.5" y1="928.81" x2="367.9" y2="928.81" stroke="#000" stroke-width="1" />
<line x1="366.5" y1="932.33" x2="367.9" y2="932.33" stroke="#000" stroke-width="1" />
<line x1="366.5" y1="935.86" x2="367.9" y2="935.86" stroke="#000" stroke-width="1" />
<line x1="366.5" y1="942.9" x2="367.9" y2="942.9" stroke="#000" stroke-width="1" />
<line x1="366.5" y1="946.43" x2="367.9" y2="946.43" stroke="#000" stroke-width="1" />
<line x1="366.5" y1="949.95" x2="367.9" y2="949.95" stroke="#000" stroke-width="1" />
<line x1="366.5" y1="953.48" x2="367.9" y2="953.48" stroke="#000" stroke-width="1" />
<line x1="366.5" y1="960.52" x2="367.9" y2="960.52" stroke="#000" stroke-width="1" />
<line x1="366.5" y1="964.05" x2="367.9" y2="964.05" stroke="#000" stroke-width="1" />
<line x1="366.5" y1="967.57" x2="367.9" y2="967.57" stroke="#000" stroke-width="1" />
<line x1="366.5" y1="971.1" x2="367.9" y2="971.1" stroke="#000" stroke-width="1" />
<line x1="366.5" y1="978.14" x2="367.9" y2="978.14" stroke="#000" stroke-width="1" />
<line x1="366.5" y1="981.67" x2="367.9" y2="981.67" stroke="#000" stroke-width="1" />
<line x1="366.5" y1="985.19" x2="367.9" y2="985.19" stroke="#000" stroke-width="1" />
<line x1="366.5" y1="988.72" x2="367.9" y2="988.72" stroke="#000" stroke-width="1" />
<line x1="366.5" y1="995.76" x2="367.9" y2="995.76" stroke="#000" stroke-width="1" />
<line x1="366.5" y1="999.29" x2="367.9" y2="999.29" stroke="#000" stroke-width="1" />
<line x1="366.5" y1="1002.81" x2="367.9" y2="1002.81" stroke="#000" stroke-width="1" />
<line x1="366.5" y1="1006.34" x2="367.9" y2="1006.34" stroke="#000" stroke-width="1" />
<line x1="366.5" y1="1013.38" x2="367.9" y2="1013.38" stroke="#000" stroke-width="1" />
<line x1="366.5" y1="1016.91" x2="367.9" y2="1016.91" stroke="#000" stroke-width="1" />
<line x1="366.5" y1="1020.43" x2="367.9" y2="1020.43" stroke="#000" stroke-width="1" />
<line x1="366.5" y1="1023.96" x2="367.9" y2="1023.96" stroke="#000" stroke-width="1" />
<line x1="366.5" y1="1031" x2="367.9" y2="1031" stroke="#000" stroke-width="1" />
<line x1="366.5" y1="1034.53" x2="367.9" y2="1034.53" stroke="#000" stroke-width="1" />
<line x1="366.5" y1="1038.05" x2="367.9" y2="1038.05" stroke="#000" stroke-width="1" />
<line x1="366.5" y1="1041.58" x2="367.9" y2="1041.58" stroke="#000" stroke-width="1" />
<line x1="36" y1="1046.8" x2="36" y2="1050" stroke="#000" stroke-width="0.9" />
<text x="36" y="1057.3" font-size="7" text-anchor="middle" fill="#000" font-weight="bold" >0</text>
<line x1="46.76" y1="1046.8" x2="46.76" y2="1048.8" stroke="#000" stroke-width="0.8" />
<line x1="57.52" y1="1046.8" x2="57.52" y2="1050" stroke="#000" stroke-width="0.9" />
<text x="57.52" y="1057.3" font-size="7" text-anchor="middle" fill="#000" font-weight="bold" >2</text>
<line x1="68.28" y1="1046.8" x2="68.28" y2="1048.8" stroke="#000" stroke-width="0.8" />
<line x1="79.04" y1="1046.8" x2="79.04" y2="1050" stroke="#000" stroke-width="0.9" />
<text x="79.04" y="1057.3" font-size="7" text-anchor="middle" fill="#000" font-weight="bold" >4</text>
<line x1="89.8" y1="1046.8" x2="89.8" y2="1048.8" stroke="#000" stroke-width="0.8" />
<line x1="100.56" y1="1046.8" x2="100.56" y2="1050" stroke="#000" stroke-width="0.9" />
<text x="100.56" y="1057.3" font-size="7" text-anchor="middle" fill="#000" font-weight="bold" >6</text>
<line x1="111.32" y1="1046.8" x2="111.32" y2="1048.8" stroke="#000" stroke-width="0.8" />
<line x1="122.08" y1="1046.8" x2="122.08" y2="1050" stroke="#000" stroke-width="0.9" />
<text x="122.08" y="1057.3" font-size="7" text-anchor="middle" fill="#000" font-weight="bold" >8</text>
<line x1="132.84" y1="1046.8" x2="132.84" y2="1048.8" stroke="#000" stroke-width="0.8" />
<line x1="143.6" y1="1046.8" x2="143.6" y2="1050" stroke="#000" stroke-width="0.9" />
<text x="143.6" y="1057.3" font-size="7" text-anchor="middle" fill="#000" font-weight="bold" >10</text>
<line x1="154.36" y1="1046.8" x2="154.36" y2="1048.8" stroke="#000" stroke-width="0.8" />
<line x1="165.12" y1="1046.8" x2="165.12" y2="1050" stroke="#000" stroke-width="0.9" />
<text x="165.12" y="1057.3" font-size="7" text-anchor="middle" fill="#000" font-weight="bold" >12</text>
<line x1="175.88" y1="1046.8" x2="175.88" y2="1048.8" stroke="#000" stroke-width="0.8" />
<line x1="186.64" y1="1046.8" x2="186.64" y2="1050" stroke="#000" stroke-width="0.9" />
<text x="186.64" y="1057.3" font-size="7" text-anchor="middle" fill="#000" font-weight="bold" >14</text>
<line x1="197.4" y1="1046.8" x2="197.4" y2="1048.8" stroke="#000" stroke-width="0.8" />
<line x1="208.16" y1="1046.8" x2="208.16" y2="1050" stroke="#000" stroke-width="0.9" />
<text x="208.16" y="1057.3" font-size="7" text-anchor="middle" fill="#000" font-weight="bold" >16</text>
<line x1="218.92" y1="1046.8" x2="218.92" y2="1048.8" stroke="#000" stroke-width="0.8" />
<line x1="229.68" y1="1046.8" x2="229.68" y2="1050" stroke="#000" stroke-width="0.9" />
<text x="229.68" y="1057.3" font-size="7" text-anchor="middle" fill="#000" font-weight="bold" >18</text>
<line x1="240.44" y1="1046.8" x2="240.44" y2="1048.8" stroke="#000" stroke-width="0.8" />
<line x1="251.2" y1="1046.8" x2="251.2" y2="1050" stroke="#000" stroke-width="0.9" />
<text x="251.2" y="1057.3" font-size="7" text-anchor="middle" fill="#000" font-weight="bold" >20</text>
<line x1="261.96" y1="1046.8" x2="261.96" y2="1048.8" stroke="#000" stroke-width="0.8" />
<line x1="272.72" y1="1046.8" x2="272.72" y2="1050" stroke="#000" stroke-width="0.9" />
<text x="272.72" y="1057.3" font-size="7" text-anchor="middle" fill="#000" font-weight="bold" >22</text>
<line x1="283.48" y1="1046.8" x2="283.48" y2="1048.8" stroke="#000" stroke-width="0.8" />
<line x1="294.24" y1="1046.8" x2="294.24" y2="1050" stroke="#000" stroke-width="0.9" />
<text x="294.24" y="1057.3" font-size="7" text-anchor="middle" fill="#000" font-weight="bold" >24</text>
<line x1="305" y1="1046.8" x2="305" y2="1048.8" stroke="#000" stroke-width="0.8" />
<line x1="315.76" y1="1046.8" x2="315.76" y2="1050" stroke="#000" stroke-width="0.9" />
<text x="315.76" y="1057.3" font-size="7" text-anchor="middle" fill="#000" font-weight="bold" >26</text>
<line x1="326.52" y1="1046.8" x2="326.52" y2="1048.8" stroke="#000" stroke-width="0.8" />
<line x1="337.28" y1="1046.8" x2="337.28" y2="1050" stroke="#000" stroke-width="0.9" />
<text x="337.28" y="1057.3" font-size="7" text-anchor="middle" fill="#000" font-weight="bold" >28</text>
<line x1="348.04" y1="1046.8" x2="348.04" y2="1048.8" stroke="#000" stroke-width="0.8" />
<line x1="358.8" y1="1046.8" x2="358.8" y2="1050" stroke="#000" stroke-width="0.9" />
<text x="358.8" y="1057.3" font-size="7" text-anchor="middle" fill="#000" font-weight="bold" >30</text>
<line x1="28.5" y1="868.2" x2="28.5" y2="1047.3" stroke="#000" stroke-width="1.2" />
<line x1="28" y1="1046.8" x2="367" y2="1046.8" stroke="#000" stroke-width="1.2" />
<line x1="366.5" y1="868.2" x2="366.5" y2="1047.3" stroke="#000" stroke-width="1.2" />
<line x1="28" y1="868.2" x2="367" y2="868.2" stroke="#333" stroke-width="2.3" />
<line x1="28.5" y1="1001.2" x2="366.5" y2="1001.2" stroke="#9a9a9a" stroke-width="1" />
<line x1="57.52" y1="960" x2="57.52" y2="982.8" stroke="#888888" stroke-width="1.1" />
<line x1="54.52" y1="960" x2="60.52" y2="960" stroke="#888888" stroke-width="1.1" />
<line x1="54.52" y1="982.8" x2="60.52" y2="982.8" stroke="#888888" stroke-width="1.1" />
<line x1="165.12" y1="1010.5" x2="165.12" y2="1024" stroke="#888888" stroke-width="1.1" />
<line x1="162.12" y1="1010.5" x2="168.12" y2="1010.5" stroke="#888888" stroke-width="1.1" />
<line x1="162.12" y1="1024" x2="168.12" y2="1024" stroke="#888888" stroke-width="1.1" />
<line x1="197.4" y1="1011" x2="197.4" y2="1024.3" stroke="#888888" stroke-width="1.1" />
<line x1="194.4" y1="1011" x2="200.4" y2="1011" stroke="#888888" stroke-width="1.1" />
<line x1="194.4" y1="1024.3" x2="200.4" y2="1024.3" stroke="#888888" stroke-width="1.1" />
<line x1="229.68" y1="1011.7" x2="229.68" y2="1028" stroke="#888888" stroke-width="1.1" />
<line x1="226.68" y1="1011.7" x2="232.68" y2="1011.7" stroke="#888888" stroke-width="1.1" />
<line x1="226.68" y1="1028" x2="232.68" y2="1028" stroke="#888888" stroke-width="1.1" />
<line x1="294.24" y1="1021.8" x2="294.24" y2="1037" stroke="#888888" stroke-width="1.1" />
<line x1="291.24" y1="1021.8" x2="297.24" y2="1021.8" stroke="#888888" stroke-width="1.1" />
<line x1="291.24" y1="1037" x2="297.24" y2="1037" stroke="#888888" stroke-width="1.1" />
<polyline points="36,869 46.76,928 57.52,972 68.28,984.4 79.04,991.9 89.8,996.6 100.56,1003 111.32,1005.5 122.08,1008.4 132.84,1010.5 143.6,1013 154.36,1015.5 165.12,1018 186.64,1019.3 197.4,1018.5 229.68,1021.3 251.2,1023 272.72,1025 294.24,1026.3" fill="none" stroke="#888888" stroke-width="1.3" stroke-linejoin="round" stroke-dasharray="2.8,1.6"/>
<line x1="46.76" y1="899.5" x2="46.76" y2="955.6" stroke="#000" stroke-width="1.5" />
<line x1="43.46" y1="899.5" x2="50.06" y2="899.5" stroke="#000" stroke-width="1.5" />
<line x1="43.46" y1="955.6" x2="50.06" y2="955.6" stroke="#000" stroke-width="1.5" />
<line x1="57.52" y1="896.7" x2="57.52" y2="972.3" stroke="#000" stroke-width="1.5" />
<line x1="54.22" y1="896.7" x2="60.82" y2="896.7" stroke="#000" stroke-width="1.5" />
<line x1="54.22" y1="972.3" x2="60.82" y2="972.3" stroke="#000" stroke-width="1.5" />
<line x1="68.28" y1="927.8" x2="68.28" y2="998.3" stroke="#000" stroke-width="1.5" />
<line x1="64.98" y1="927.8" x2="71.58" y2="927.8" stroke="#000" stroke-width="1.5" />
<line x1="64.98" y1="998.3" x2="71.58" y2="998.3" stroke="#000" stroke-width="1.5" />
<line x1="79.04" y1="967.7" x2="79.04" y2="996.9" stroke="#000" stroke-width="1.5" />
<line x1="75.74" y1="967.7" x2="82.34" y2="967.7" stroke="#000" stroke-width="1.5" />
<line x1="75.74" y1="996.9" x2="82.34" y2="996.9" stroke="#000" stroke-width="1.5" />
<line x1="89.8" y1="979.8" x2="89.8" y2="1008" stroke="#000" stroke-width="1.5" />
<line x1="86.5" y1="979.8" x2="93.1" y2="979.8" stroke="#000" stroke-width="1.5" />
<line x1="86.5" y1="1008" x2="93.1" y2="1008" stroke="#000" stroke-width="1.5" />
<line x1="100.56" y1="986.5" x2="100.56" y2="1016.8" stroke="#000" stroke-width="1.5" />
<line x1="97.26" y1="986.5" x2="103.86" y2="986.5" stroke="#000" stroke-width="1.5" />
<line x1="97.26" y1="1016.8" x2="103.86" y2="1016.8" stroke="#000" stroke-width="1.5" />
<line x1="111.32" y1="980.7" x2="111.32" y2="1021.8" stroke="#000" stroke-width="1.5" />
<line x1="108.02" y1="980.7" x2="114.62" y2="980.7" stroke="#000" stroke-width="1.5" />
<line x1="108.02" y1="1021.8" x2="114.62" y2="1021.8" stroke="#000" stroke-width="1.5" />
<line x1="122.08" y1="998.4" x2="122.08" y2="1026" stroke="#000" stroke-width="1.5" />
<line x1="118.78" y1="998.4" x2="125.38" y2="998.4" stroke="#000" stroke-width="1.5" />
<line x1="118.78" y1="1026" x2="125.38" y2="1026" stroke="#000" stroke-width="1.5" />
<line x1="132.84" y1="1002.9" x2="132.84" y2="1025.6" stroke="#000" stroke-width="1.5" />
<line x1="129.54" y1="1002.9" x2="136.14" y2="1002.9" stroke="#000" stroke-width="1.5" />
<line x1="129.54" y1="1025.6" x2="136.14" y2="1025.6" stroke="#000" stroke-width="1.5" />
<line x1="143.6" y1="1005.4" x2="143.6" y2="1026.8" stroke="#000" stroke-width="1.5" />
<line x1="140.3" y1="1005.4" x2="146.9" y2="1005.4" stroke="#000" stroke-width="1.5" />
<line x1="140.3" y1="1026.8" x2="146.9" y2="1026.8" stroke="#000" stroke-width="1.5" />
<line x1="154.36" y1="1007.2" x2="154.36" y2="1031.1" stroke="#000" stroke-width="1.5" />
<line x1="151.06" y1="1007.2" x2="157.66" y2="1007.2" stroke="#000" stroke-width="1.5" />
<line x1="151.06" y1="1031.1" x2="157.66" y2="1031.1" stroke="#000" stroke-width="1.5" />
<line x1="165.12" y1="1014.2" x2="165.12" y2="1033.1" stroke="#000" stroke-width="1.5" />
<line x1="161.82" y1="1014.2" x2="168.42" y2="1014.2" stroke="#000" stroke-width="1.5" />
<line x1="161.82" y1="1033.1" x2="168.42" y2="1033.1" stroke="#000" stroke-width="1.5" />
<line x1="186.64" y1="1015.5" x2="186.64" y2="1035.1" stroke="#000" stroke-width="1.5" />
<line x1="183.34" y1="1015.5" x2="189.94" y2="1015.5" stroke="#000" stroke-width="1.5" />
<line x1="183.34" y1="1035.1" x2="189.94" y2="1035.1" stroke="#000" stroke-width="1.5" />
<line x1="208.16" y1="1018" x2="208.16" y2="1036.9" stroke="#000" stroke-width="1.5" />
<line x1="204.86" y1="1018" x2="211.46" y2="1018" stroke="#000" stroke-width="1.5" />
<line x1="204.86" y1="1036.9" x2="211.46" y2="1036.9" stroke="#000" stroke-width="1.5" />
<line x1="229.68" y1="1021.8" x2="229.68" y2="1035.6" stroke="#000" stroke-width="1.5" />
<line x1="226.38" y1="1021.8" x2="232.98" y2="1021.8" stroke="#000" stroke-width="1.5" />
<line x1="226.38" y1="1035.6" x2="232.98" y2="1035.6" stroke="#000" stroke-width="1.5" />
<line x1="251.2" y1="1021.3" x2="251.2" y2="1036.1" stroke="#000" stroke-width="1.5" />
<line x1="247.9" y1="1021.3" x2="254.5" y2="1021.3" stroke="#000" stroke-width="1.5" />
<line x1="247.9" y1="1036.1" x2="254.5" y2="1036.1" stroke="#000" stroke-width="1.5" />
<line x1="272.72" y1="1018" x2="272.72" y2="1034.9" stroke="#000" stroke-width="1.5" />
<line x1="269.42" y1="1018" x2="276.02" y2="1018" stroke="#000" stroke-width="1.5" />
<line x1="269.42" y1="1034.9" x2="276.02" y2="1034.9" stroke="#000" stroke-width="1.5" />
<line x1="294.24" y1="1014.2" x2="294.24" y2="1038.7" stroke="#000" stroke-width="1.5" />
<line x1="290.94" y1="1014.2" x2="297.54" y2="1014.2" stroke="#000" stroke-width="1.5" />
<line x1="290.94" y1="1038.7" x2="297.54" y2="1038.7" stroke="#000" stroke-width="1.5" />
<line x1="315.76" y1="1021.3" x2="315.76" y2="1042.4" stroke="#000" stroke-width="1.5" />
<line x1="312.46" y1="1021.3" x2="319.06" y2="1021.3" stroke="#000" stroke-width="1.5" />
<line x1="312.46" y1="1042.4" x2="319.06" y2="1042.4" stroke="#000" stroke-width="1.5" />
<line x1="337.28" y1="1022.5" x2="337.28" y2="1042" stroke="#000" stroke-width="1.5" />
<line x1="333.98" y1="1022.5" x2="340.58" y2="1022.5" stroke="#000" stroke-width="1.5" />
<line x1="333.98" y1="1042" x2="340.58" y2="1042" stroke="#000" stroke-width="1.5" />
<line x1="358.8" y1="1014.2" x2="358.8" y2="1038.7" stroke="#000" stroke-width="1.5" />
<line x1="355.5" y1="1014.2" x2="362.1" y2="1014.2" stroke="#000" stroke-width="1.5" />
<line x1="355.5" y1="1038.7" x2="362.1" y2="1038.7" stroke="#000" stroke-width="1.5" />
<polyline points="36,1001.2 46.76,934.4 57.52,962.6 68.28,974.8 79.04,986.9 89.8,998.9 100.56,1002.9 111.32,1010.5 122.08,1014.2 132.84,1011.2 143.6,1016.8 154.36,1024.3 165.12,1019.3 186.64,1025.5 208.16,1026.8 229.68,1026.8 251.2,1030.6 272.72,1026.3 294.24,1031.9 315.76,1035.1 337.28,1038.2 358.8,1035.6" fill="none" stroke="#000" stroke-width="1.8" stroke-linejoin="round" />
<line x1="315.1" y1="883.2" x2="332.8" y2="883.2" stroke="#000" stroke-width="1.5" />
<line x1="315.1" y1="891.8" x2="332.8" y2="891.8" stroke="#888888" stroke-width="1.3" stroke-dasharray="2.8,1.6"/>
<text x="335.8" y="885.65" font-size="6.8" text-anchor="start" fill="#000" font-weight="bold" >ALC</text>
<text x="335.8" y="894.25" font-size="6.8" text-anchor="start" fill="#000" font-weight="bold" >SPD</text>
<text x="202.9" y="1068.3" font-size="8.7" text-anchor="middle" fill="#000" font-weight="bold" style="stroke-width:0.45px">Months</text>
<text transform="translate(9,956.4) rotate(-90)" x="0" y="0" font-size="8.76" text-anchor="middle" font-weight="bold" style="stroke-width:0.45px" >Median ALC Change From Baseline, %</text>
<text transform="translate(387.6,956.1) rotate(90)" x="0" y="0" font-size="8.72" text-anchor="middle" font-weight="bold" style="stroke-width:0.45px" >Median SPD Change From Baseline, %</text>
<text x="-0.3" y="1077.7" font-size="23.5" text-anchor="start" fill="#000" font-weight="bold" style="stroke-width:0.6px">F</text>
<line x1="29" y1="1234.07" x2="394.3" y2="1234.07" stroke="#dedede" stroke-width="0.8" />
<line x1="29" y1="1217.64" x2="394.3" y2="1217.64" stroke="#dedede" stroke-width="0.8" />
<line x1="29" y1="1201.21" x2="394.3" y2="1201.21" stroke="#dedede" stroke-width="0.8" />
<line x1="29" y1="1184.78" x2="394.3" y2="1184.78" stroke="#dedede" stroke-width="0.8" />
<line x1="29" y1="1168.35" x2="394.3" y2="1168.35" stroke="#dedede" stroke-width="0.8" />
<line x1="29" y1="1151.92" x2="394.3" y2="1151.92" stroke="#dedede" stroke-width="0.8" />
<line x1="29" y1="1135.49" x2="394.3" y2="1135.49" stroke="#dedede" stroke-width="0.8" />
<line x1="29" y1="1119.06" x2="394.3" y2="1119.06" stroke="#dedede" stroke-width="0.8" />
<line x1="29" y1="1102.63" x2="394.3" y2="1102.63" stroke="#dedede" stroke-width="0.8" />
<line x1="29" y1="1086.2" x2="394.3" y2="1086.2" stroke="#dedede" stroke-width="0.8" />
<line x1="29" y1="1250.8" x2="394.3" y2="1250.8" stroke="#e6e6e6" stroke-width="0.8" />
<line x1="26" y1="1250.5" x2="29" y2="1250.5" stroke="#000" stroke-width="0.9" />
<text transform="translate(24.7,1252.8) scale(0.87,1)" font-size="7.6" text-anchor="end" fill="#000" font-weight="bold" >0</text>
<line x1="26" y1="1234.07" x2="29" y2="1234.07" stroke="#000" stroke-width="0.9" />
<text transform="translate(24.7,1236.37) scale(0.87,1)" font-size="7.6" text-anchor="end" fill="#000" font-weight="bold" >10</text>
<line x1="26" y1="1217.64" x2="29" y2="1217.64" stroke="#000" stroke-width="0.9" />
<text transform="translate(24.7,1219.94) scale(0.87,1)" font-size="7.6" text-anchor="end" fill="#000" font-weight="bold" >20</text>
<line x1="26" y1="1201.21" x2="29" y2="1201.21" stroke="#000" stroke-width="0.9" />
<text transform="translate(24.7,1203.51) scale(0.87,1)" font-size="7.6" text-anchor="end" fill="#000" font-weight="bold" >30</text>
<line x1="26" y1="1184.78" x2="29" y2="1184.78" stroke="#000" stroke-width="0.9" />
<text transform="translate(24.7,1187.08) scale(0.87,1)" font-size="7.6" text-anchor="end" fill="#000" font-weight="bold" >40</text>
<line x1="26" y1="1168.35" x2="29" y2="1168.35" stroke="#000" stroke-width="0.9" />
<text transform="translate(24.7,1170.65) scale(0.87,1)" font-size="7.6" text-anchor="end" fill="#000" font-weight="bold" >50</text>
<line x1="26" y1="1151.92" x2="29" y2="1151.92" stroke="#000" stroke-width="0.9" />
<text transform="translate(24.7,1154.22) scale(0.87,1)" font-size="7.6" text-anchor="end" fill="#000" font-weight="bold" >60</text>
<line x1="26" y1="1135.49" x2="29" y2="1135.49" stroke="#000" stroke-width="0.9" />
<text transform="translate(24.7,1137.79) scale(0.87,1)" font-size="7.6" text-anchor="end" fill="#000" font-weight="bold" >70</text>
<line x1="26" y1="1119.06" x2="29" y2="1119.06" stroke="#000" stroke-width="0.9" />
<text transform="translate(24.7,1121.36) scale(0.87,1)" font-size="7.6" text-anchor="end" fill="#000" font-weight="bold" >80</text>
<line x1="26" y1="1102.63" x2="29" y2="1102.63" stroke="#000" stroke-width="0.9" />
<text transform="translate(24.7,1104.93) scale(0.87,1)" font-size="7.6" text-anchor="end" fill="#000" font-weight="bold" >90</text>
<line x1="26" y1="1086.2" x2="29" y2="1086.2" stroke="#000" stroke-width="0.9" />
<text transform="translate(24.7,1088.5) scale(0.87,1)" font-size="7.6" text-anchor="end" fill="#000" font-weight="bold" >100</text>
<line x1="31.8" y1="1253.5" x2="31.8" y2="1256.7" stroke="#000" stroke-width="0.9" />
<line x1="40.02" y1="1253.5" x2="40.02" y2="1256.7" stroke="#000" stroke-width="0.9" />
<line x1="48.25" y1="1253.5" x2="48.25" y2="1256.7" stroke="#000" stroke-width="0.9" />
<line x1="56.47" y1="1253.5" x2="56.47" y2="1256.7" stroke="#000" stroke-width="0.9" />
<line x1="64.7" y1="1253.5" x2="64.7" y2="1256.7" stroke="#000" stroke-width="0.9" />
<line x1="72.92" y1="1253.5" x2="72.92" y2="1256.7" stroke="#000" stroke-width="0.9" />
<line x1="81.15" y1="1253.5" x2="81.15" y2="1256.7" stroke="#000" stroke-width="0.9" />
<line x1="89.38" y1="1253.5" x2="89.38" y2="1256.7" stroke="#000" stroke-width="0.9" />
<line x1="97.6" y1="1253.5" x2="97.6" y2="1256.7" stroke="#000" stroke-width="0.9" />
<line x1="105.82" y1="1253.5" x2="105.82" y2="1256.7" stroke="#000" stroke-width="0.9" />
<line x1="114.05" y1="1253.5" x2="114.05" y2="1256.7" stroke="#000" stroke-width="0.9" />
<line x1="122.27" y1="1253.5" x2="122.27" y2="1256.7" stroke="#000" stroke-width="0.9" />
<line x1="130.5" y1="1253.5" x2="130.5" y2="1256.7" stroke="#000" stroke-width="0.9" />
<line x1="138.72" y1="1253.5" x2="138.72" y2="1256.7" stroke="#000" stroke-width="0.9" />
<line x1="146.95" y1="1253.5" x2="146.95" y2="1256.7" stroke="#000" stroke-width="0.9" />
<line x1="155.18" y1="1253.5" x2="155.18" y2="1256.7" stroke="#000" stroke-width="0.9" />
<line x1="163.4" y1="1253.5" x2="163.4" y2="1256.7" stroke="#000" stroke-width="0.9" />
<line x1="171.62" y1="1253.5" x2="171.62" y2="1256.7" stroke="#000" stroke-width="0.9" />
<line x1="179.85" y1="1253.5" x2="179.85" y2="1256.7" stroke="#000" stroke-width="0.9" />
<line x1="188.08" y1="1253.5" x2="188.08" y2="1256.7" stroke="#000" stroke-width="0.9" />
<line x1="196.3" y1="1253.5" x2="196.3" y2="1256.7" stroke="#000" stroke-width="0.9" />
<line x1="204.53" y1="1253.5" x2="204.53" y2="1256.7" stroke="#000" stroke-width="0.9" />
<line x1="212.75" y1="1253.5" x2="212.75" y2="1256.7" stroke="#000" stroke-width="0.9" />
<line x1="220.97" y1="1253.5" x2="220.97" y2="1256.7" stroke="#000" stroke-width="0.9" />
<line x1="229.2" y1="1253.5" x2="229.2" y2="1256.7" stroke="#000" stroke-width="0.9" />
<line x1="237.43" y1="1253.5" x2="237.43" y2="1256.7" stroke="#000" stroke-width="0.9" />
<line x1="245.65" y1="1253.5" x2="245.65" y2="1256.7" stroke="#000" stroke-width="0.9" />
<line x1="253.88" y1="1253.5" x2="253.88" y2="1256.7" stroke="#000" stroke-width="0.9" />
<line x1="262.1" y1="1253.5" x2="262.1" y2="1256.7" stroke="#000" stroke-width="0.9" />
<line x1="270.32" y1="1253.5" x2="270.32" y2="1256.7" stroke="#000" stroke-width="0.9" />
<line x1="278.55" y1="1253.5" x2="278.55" y2="1256.7" stroke="#000" stroke-width="0.9" />
<line x1="286.77" y1="1253.5" x2="286.77" y2="1256.7" stroke="#000" stroke-width="0.9" />
<line x1="295" y1="1253.5" x2="295" y2="1256.7" stroke="#000" stroke-width="0.9" />
<line x1="303.23" y1="1253.5" x2="303.23" y2="1256.7" stroke="#000" stroke-width="0.9" />
<line x1="311.45" y1="1253.5" x2="311.45" y2="1256.7" stroke="#000" stroke-width="0.9" />
<line x1="319.68" y1="1253.5" x2="319.68" y2="1256.7" stroke="#000" stroke-width="0.9" />
<line x1="327.9" y1="1253.5" x2="327.9" y2="1256.7" stroke="#000" stroke-width="0.9" />
<line x1="336.12" y1="1253.5" x2="336.12" y2="1256.7" stroke="#000" stroke-width="0.9" />
<line x1="344.35" y1="1253.5" x2="344.35" y2="1256.7" stroke="#000" stroke-width="0.9" />
<line x1="352.57" y1="1253.5" x2="352.57" y2="1256.7" stroke="#000" stroke-width="0.9" />
<line x1="360.8" y1="1253.5" x2="360.8" y2="1256.7" stroke="#000" stroke-width="0.9" />
<line x1="369.02" y1="1253.5" x2="369.02" y2="1256.7" stroke="#000" stroke-width="0.9" />
<line x1="377.25" y1="1253.5" x2="377.25" y2="1256.7" stroke="#000" stroke-width="0.9" />
<line x1="385.48" y1="1253.5" x2="385.48" y2="1256.7" stroke="#000" stroke-width="0.9" />
<line x1="393.7" y1="1253.5" x2="393.7" y2="1256.7" stroke="#000" stroke-width="0.9" />
<text x="32.8" y="1265.1" font-size="7" text-anchor="middle" fill="#000" font-weight="bold" >0</text>
<text x="57.47" y="1265.1" font-size="7" text-anchor="middle" fill="#000" font-weight="bold" >3</text>
<text x="82.15" y="1265.1" font-size="7" text-anchor="middle" fill="#000" font-weight="bold" >6</text>
<text x="106.82" y="1265.1" font-size="7" text-anchor="middle" fill="#000" font-weight="bold" >9</text>
<text x="131.5" y="1265.1" font-size="7" text-anchor="middle" fill="#000" font-weight="bold" >12</text>
<text x="156.18" y="1265.1" font-size="7" text-anchor="middle" fill="#000" font-weight="bold" >15</text>
<text x="180.85" y="1265.1" font-size="7" text-anchor="middle" fill="#000" font-weight="bold" >18</text>
<text x="230.2" y="1265.1" font-size="7" text-anchor="middle" fill="#000" font-weight="bold" >24</text>
<text x="279.55" y="1265.1" font-size="7" text-anchor="middle" fill="#000" font-weight="bold" >30</text>
<text x="328.9" y="1265.1" font-size="7" text-anchor="middle" fill="#000" font-weight="bold" >36</text>
<text x="378.25" y="1265.1" font-size="7" text-anchor="middle" fill="#000" font-weight="bold" >42</text>
<line x1="29" y1="1083.5" x2="29" y2="1254" stroke="#000" stroke-width="1.3" />
<line x1="28.5" y1="1253.5" x2="394.8" y2="1253.5" stroke="#000" stroke-width="1.3" />
<line x1="394.3" y1="1083.5" x2="394.3" y2="1254" stroke="#000" stroke-width="1.2" />
<line x1="28.5" y1="1083.5" x2="394.8" y2="1083.5" stroke="#000" stroke-width="1.2" />
<path d="M56.47,1217.64 C60.59,1212.16 72.92,1193.82 81.15,1184.78 C89.37,1175.74 97.6,1169.45 105.82,1163.42 C114.05,1157.4 122.27,1153.56 130.5,1148.63 C138.72,1143.7 146.95,1137.41 155.18,1133.85 C163.4,1130.29 167.51,1129.19 179.85,1127.28 C192.19,1125.36 212.75,1123.44 229.2,1122.35 C245.65,1121.25 262.1,1121.52 278.55,1120.7 C295,1119.88 311.45,1117.96 327.9,1117.42 C344.35,1116.87 367.38,1117.14 377.25,1117.42 C387.12,1117.69 385.48,1118.79 387.12,1119.06" fill="none" stroke="#a3a3a3" stroke-width="2.6" stroke-linejoin="round" />
<circle cx="56.47" cy="1217.64" r="2" fill="#aaaaaa"/>
<circle cx="81.15" cy="1184.78" r="2" fill="#aaaaaa"/>
<circle cx="105.82" cy="1163.42" r="2" fill="#aaaaaa"/>
<circle cx="130.5" cy="1148.63" r="2" fill="#aaaaaa"/>
<circle cx="155.18" cy="1133.85" r="2" fill="#aaaaaa"/>
<circle cx="179.85" cy="1127.28" r="2" fill="#aaaaaa"/>
<circle cx="229.2" cy="1122.35" r="2" fill="#aaaaaa"/>
<circle cx="278.55" cy="1120.7" r="2" fill="#aaaaaa"/>
<circle cx="327.9" cy="1117.42" r="2" fill="#aaaaaa"/>
<circle cx="377.25" cy="1117.42" r="2" fill="#aaaaaa"/>
<circle cx="387.12" cy="1119.06" r="2" fill="#aaaaaa"/>
<path d="M56.47,1165.06 C60.59,1166.71 72.92,1169.99 81.15,1174.92 C89.37,1179.85 97.6,1188.34 105.82,1194.64 C114.05,1200.94 122.27,1207.78 130.5,1212.71 C138.72,1217.64 146.95,1221.2 155.18,1224.21 C163.4,1227.22 167.51,1228.87 179.85,1230.78 C192.19,1232.7 212.75,1233.8 229.2,1235.71 C245.65,1237.63 262.1,1240.64 278.55,1242.29 C295,1243.93 311.45,1245.02 327.9,1245.57 C344.35,1246.12 367.38,1245.57 377.25,1245.57 C387.12,1245.57 385.48,1245.57 387.12,1245.57" fill="none" stroke="#000" stroke-width="2.6" stroke-linejoin="round" stroke-dasharray="5.5,2.6"/>
<path d="M56.47,1162.56 L58.97,1165.06 L56.47,1167.56 L53.97,1165.06 Z" fill="#000"/>
<path d="M81.15,1172.42 L83.65,1174.92 L81.15,1177.42 L78.65,1174.92 Z" fill="#000"/>
<path d="M105.82,1192.14 L108.32,1194.64 L105.82,1197.14 L103.32,1194.64 Z" fill="#000"/>
<path d="M130.5,1210.21 L133,1212.71 L130.5,1215.21 L128,1212.71 Z" fill="#000"/>
<path d="M155.18,1221.71 L157.68,1224.21 L155.18,1226.71 L152.68,1224.21 Z" fill="#000"/>
<path d="M179.85,1228.28 L182.35,1230.78 L179.85,1233.28 L177.35,1230.78 Z" fill="#000"/>
<path d="M229.2,1233.21 L231.7,1235.71 L229.2,1238.21 L226.7,1235.71 Z" fill="#000"/>
<path d="M278.55,1239.79 L281.05,1242.29 L278.55,1244.79 L276.05,1242.29 Z" fill="#000"/>
<path d="M327.9,1243.07 L330.4,1245.57 L327.9,1248.07 L325.4,1245.57 Z" fill="#000"/>
<path d="M377.25,1243.07 L379.75,1245.57 L377.25,1248.07 L374.75,1245.57 Z" fill="#000"/>
<path d="M387.12,1243.07 L389.62,1245.57 L387.12,1248.07 L384.62,1245.57 Z" fill="#000"/>
<polyline points="81.15,1248.86 105.82,1248.86 130.5,1245.57 155.18,1245.57 179.85,1245.57 229.2,1245.57 278.55,1240.64 327.9,1240.64 377.25,1240.64 387.12,1239" fill="none" stroke="#000" stroke-width="2.6" stroke-linejoin="round" />
<rect x="79.25" y="1246.96" width="3.8" height="3.8" fill="#000"/>
<rect x="103.92" y="1246.96" width="3.8" height="3.8" fill="#000"/>
<rect x="128.6" y="1243.67" width="3.8" height="3.8" fill="#000"/>
<rect x="153.28" y="1243.67" width="3.8" height="3.8" fill="#000"/>
<rect x="177.95" y="1243.67" width="3.8" height="3.8" fill="#000"/>
<rect x="227.3" y="1243.67" width="3.8" height="3.8" fill="#000"/>
<rect x="276.65" y="1238.74" width="3.8" height="3.8" fill="#000"/>
<rect x="326" y="1238.74" width="3.8" height="3.8" fill="#000"/>
<rect x="375.35" y="1238.74" width="3.8" height="3.8" fill="#000"/>
<rect x="385.22" y="1237.1" width="3.8" height="3.8" fill="#000"/>
<text transform="translate(59.6,1223.44) scale(0.9,1)" font-size="7.9" text-anchor="start" fill="#000" font-weight="bold" >20</text>
<text transform="translate(82.3,1191.94) scale(0.9,1)" font-size="7.9" text-anchor="start" fill="#000" font-weight="bold" >40</text>
<text transform="translate(103.5,1159.94) scale(0.9,1)" font-size="7.9" text-anchor="start" fill="#000" font-weight="bold" >53</text>
<text transform="translate(128,1144.84) scale(0.9,1)" font-size="7.9" text-anchor="start" fill="#000" font-weight="bold" >62</text>
<text transform="translate(154,1130.94) scale(0.9,1)" font-size="7.9" text-anchor="start" fill="#000" font-weight="bold" >71</text>
<text transform="translate(180.5,1123.64) scale(0.9,1)" font-size="7.9" text-anchor="start" fill="#000" font-weight="bold" >75</text>
<text transform="translate(231.4,1120.44) scale(0.9,1)" font-size="7.9" text-anchor="start" fill="#000" font-weight="bold" >78</text>
<text transform="translate(281,1117.94) scale(0.9,1)" font-size="7.9" text-anchor="start" fill="#000" font-weight="bold" >79</text>
<text transform="translate(329.7,1115.54) scale(0.9,1)" font-size="7.9" text-anchor="start" fill="#000" font-weight="bold" >81</text>
<text transform="translate(368.8,1115.54) scale(0.9,1)" font-size="7.9" text-anchor="start" fill="#000" font-weight="bold" >81</text>
<text transform="translate(386.4,1127.44) scale(0.9,1)" font-size="7.9" text-anchor="start" fill="#000" font-weight="bold" >80</text>
<text transform="translate(58.9,1164.24) scale(0.9,1)" font-size="7.9" text-anchor="start" fill="#000" font-weight="bold" >52</text>
<text transform="translate(83.3,1174.34) scale(0.9,1)" font-size="7.9" text-anchor="start" fill="#000" font-weight="bold" >46</text>
<text transform="translate(108.5,1193.24) scale(0.9,1)" font-size="7.9" text-anchor="start" fill="#000" font-weight="bold" >34</text>
<text transform="translate(133.9,1211.84) scale(0.9,1)" font-size="7.9" text-anchor="start" fill="#000" font-weight="bold" >23</text>
<text transform="translate(159,1222.34) scale(0.9,1)" font-size="7.9" text-anchor="start" fill="#000" font-weight="bold" >16</text>
<text transform="translate(183,1228.64) scale(0.9,1)" font-size="7.9" text-anchor="start" fill="#000" font-weight="bold" >12</text>
<text transform="translate(229.6,1233.24) scale(0.9,1)" font-size="7.9" text-anchor="start" fill="#000" font-weight="bold" >9</text>
<text transform="translate(281,1250.34) scale(0.9,1)" font-size="7.9" text-anchor="start" fill="#000" font-weight="bold" >5</text>
<text transform="translate(331.8,1253.34) scale(0.9,1)" font-size="7.9" text-anchor="middle" fill="#000" font-weight="bold" >3</text>
<text transform="translate(380.9,1253.34) scale(0.9,1)" font-size="7.9" text-anchor="middle" fill="#000" font-weight="bold" >3</text>
<text transform="translate(390.7,1244.54) scale(0.9,1)" font-size="7.9" text-anchor="start" fill="#000" font-weight="bold" >3</text>
<text transform="translate(81.7,1245.64) scale(0.9,1)" font-size="7.9" text-anchor="middle" fill="#000" font-weight="bold" >1</text>
<text transform="translate(106.1,1245.64) scale(0.9,1)" font-size="7.9" text-anchor="middle" fill="#000" font-weight="bold" >1</text>
<text transform="translate(131,1242.54) scale(0.9,1)" font-size="7.9" text-anchor="middle" fill="#000" font-weight="bold" >3</text>
<text transform="translate(156,1242.54) scale(0.9,1)" font-size="7.9" text-anchor="middle" fill="#000" font-weight="bold" >3</text>
<text transform="translate(180,1242.54) scale(0.9,1)" font-size="7.9" text-anchor="middle" fill="#000" font-weight="bold" >3</text>
<text transform="translate(231,1253.34) scale(0.9,1)" font-size="7.9" text-anchor="middle" fill="#000" font-weight="bold" >3</text>
<text transform="translate(278.4,1237.04) scale(0.9,1)" font-size="7.9" text-anchor="middle" fill="#000" font-weight="bold" >6</text>
<text transform="translate(327.7,1237.74) scale(0.9,1)" font-size="7.9" text-anchor="middle" fill="#000" font-weight="bold" >6</text>
<text transform="translate(376.3,1237.74) scale(0.9,1)" font-size="7.9" text-anchor="middle" fill="#000" font-weight="bold" >6</text>
<text transform="translate(390.7,1237.04) scale(0.9,1)" font-size="7.9" text-anchor="start" fill="#000" font-weight="bold" >7</text>
<rect x="34" y="1090.8" width="137" height="9.3" fill="#fff" stroke="#000" stroke-width="1"/>
<line x1="41.3" y1="1095.45" x2="64.2" y2="1095.45" stroke="#000" stroke-width="2.6" />
<rect x="50.85" y="1093.55" width="3.8" height="3.8" fill="#000"/>
<text x="68.2" y="1098.08" font-size="7.3" text-anchor="start" fill="#000" font-weight="bold" >CR</text>
<line x1="82" y1="1095.45" x2="105.6" y2="1095.45" stroke="#a3a3a3" stroke-width="2.6" />
<circle cx="93.8" cy="1095.45" r="2" fill="#aaaaaa"/>
<text x="108.6" y="1098.08" font-size="7.3" text-anchor="start" fill="#000" font-weight="bold" >PR</text>
<line x1="121.7" y1="1095.45" x2="144.4" y2="1095.45" stroke="#000" stroke-width="2.6" stroke-dasharray="5.5,2.6"/>
<path d="M133.05,1092.95 L135.55,1095.45 L133.05,1097.95 L130.55,1095.45 Z" fill="#000"/>
<text x="148.5" y="1098.08" font-size="7.3" text-anchor="start" fill="#000" font-weight="bold" >PR-L</text>
<text x="215.5" y="1278.4" font-size="8.7" text-anchor="middle" fill="#000" font-weight="bold" style="stroke-width:0.45px">Months from Initiation of Study Treatment</text>
<text transform="translate(12.3,1172) rotate(-90)" x="0" y="0" font-size="8.78" text-anchor="middle" font-weight="bold" style="stroke-width:0.45px" >Subjects with Response, %</text>
</svg>
</body></html>
